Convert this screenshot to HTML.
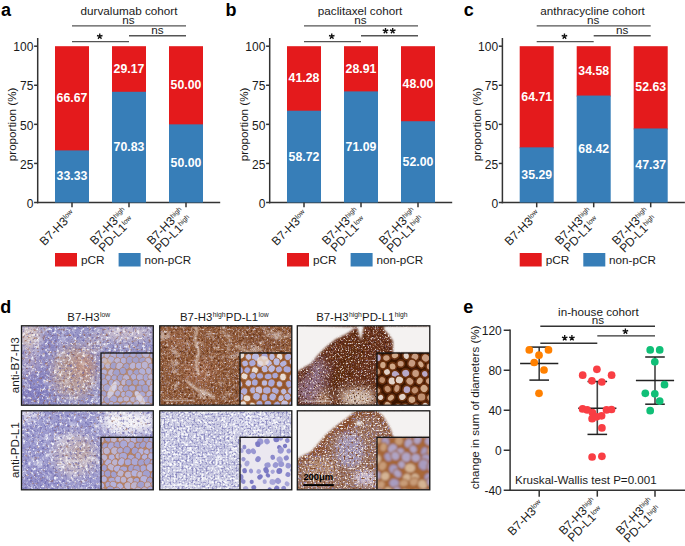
<!DOCTYPE html>
<html><head><meta charset="utf-8"><style>
html,body{margin:0;padding:0;background:#fff;}
body{width:685px;height:546px;overflow:hidden;position:relative;font-family:"Liberation Sans", sans-serif;color:#1a1a1a;}
svg{position:absolute;left:0;top:0;font-family:"Liberation Sans", sans-serif;}
.xl{position:absolute;transform-origin:100% 50%;transform:rotate(-45deg);text-align:center;font-size:12px;line-height:10.5px;white-space:nowrap;}
.xl sup{font-size:6.8px;vertical-align:baseline;position:relative;top:-4px;line-height:0;}
</style></head><body>
<svg width="685" height="546" viewBox="0 0 685 546">
<defs><clipPath id="c1"><rect x="21.5" y="325.8" width="131.8" height="79.4"/></clipPath><filter id="b2" x="-50%" y="-50%" width="200%" height="200%"><feGaussianBlur stdDeviation="5"/></filter><filter id="n3" filterUnits="userSpaceOnUse" x="21.5" y="325.8" width="131.8" height="79.4" color-interpolation-filters="sRGB"><feTurbulence type="fractalNoise" baseFrequency="0.09" numOctaves="3" seed="3"/><feColorMatrix type="matrix" values="0 0 0 0 1.000 0 0 0 0 1.000 0 0 0 0 1.000 5 0 0 0 -2.9"/><feGaussianBlur stdDeviation="0.45"/></filter><filter id="n4" filterUnits="userSpaceOnUse" x="21.5" y="325.8" width="131.8" height="79.4" color-interpolation-filters="sRGB"><feTurbulence type="fractalNoise" baseFrequency="0.35" numOctaves="3" seed="4"/><feColorMatrix type="matrix" values="0 0 0 0 1.000 0 0 0 0 1.000 0 0 0 0 1.000 4 0 0 0 -2.1"/><feGaussianBlur stdDeviation="0.45"/></filter><filter id="n5" filterUnits="userSpaceOnUse" x="21.5" y="325.8" width="131.8" height="79.4" color-interpolation-filters="sRGB"><feTurbulence type="fractalNoise" baseFrequency="0.4" numOctaves="3" seed="7"/><feColorMatrix type="matrix" values="0 0 0 0 0.392 0 0 0 0 0.376 0 0 0 0 0.659 4 0 0 0 -2.2"/><feGaussianBlur stdDeviation="0.45"/></filter><filter id="n6" filterUnits="userSpaceOnUse" x="21.5" y="325.8" width="131.8" height="79.4" color-interpolation-filters="sRGB"><feTurbulence type="fractalNoise" baseFrequency="0.35" numOctaves="3" seed="11"/><feColorMatrix type="matrix" values="0 0 0 0 0.541 0 0 0 0 0.290 0 0 0 0 0.157 4 0 0 0 -2.3"/><feGaussianBlur stdDeviation="0.45"/></filter><clipPath id="c7"><rect x="101.0" y="353.0" width="52.30000000000001" height="52.200000000000045"/></clipPath><filter id="ib8" x="-5%" y="-5%" width="110%" height="110%"><feGaussianBlur stdDeviation="0.55"/></filter><clipPath id="c9"><rect x="159.7" y="325.8" width="132.1" height="79.4"/></clipPath><filter id="b10" x="-50%" y="-50%" width="200%" height="200%"><feGaussianBlur stdDeviation="5"/></filter><filter id="n11" filterUnits="userSpaceOnUse" x="159.7" y="325.8" width="132.1" height="79.4" color-interpolation-filters="sRGB"><feTurbulence type="fractalNoise" baseFrequency="0.1" numOctaves="3" seed="55"/><feColorMatrix type="matrix" values="0 0 0 0 0.957 0 0 0 0 0.933 0 0 0 0 0.941 5 0 0 0 -2.9"/><feGaussianBlur stdDeviation="0.45"/></filter><filter id="n12" filterUnits="userSpaceOnUse" x="159.7" y="325.8" width="132.1" height="79.4" color-interpolation-filters="sRGB"><feTurbulence type="fractalNoise" baseFrequency="0.45" numOctaves="2" seed="5"/><feColorMatrix type="matrix" values="0 0 0 0 0.957 0 0 0 0 0.933 0 0 0 0 0.941 4 0 0 0 -2.3"/><feGaussianBlur stdDeviation="0.45"/></filter><filter id="n13" filterUnits="userSpaceOnUse" x="159.7" y="325.8" width="132.1" height="79.4" color-interpolation-filters="sRGB"><feTurbulence type="fractalNoise" baseFrequency="0.55" numOctaves="2" seed="9"/><feColorMatrix type="matrix" values="0 0 0 0 0.690 0 0 0 0 0.643 0 0 0 0 0.784 4 0 0 0 -2.2"/><feGaussianBlur stdDeviation="0.45"/></filter><filter id="n14" filterUnits="userSpaceOnUse" x="159.7" y="325.8" width="132.1" height="79.4" color-interpolation-filters="sRGB"><feTurbulence type="fractalNoise" baseFrequency="0.45" numOctaves="2" seed="13"/><feColorMatrix type="matrix" values="0 0 0 0 0.353 0 0 0 0 0.165 0 0 0 0 0.063 4 0 0 0 -2.2"/><feGaussianBlur stdDeviation="0.45"/></filter><filter id="n15" filterUnits="userSpaceOnUse" x="159.7" y="325.8" width="132.1" height="79.4" color-interpolation-filters="sRGB"><feTurbulence type="fractalNoise" baseFrequency="0.45" numOctaves="2" seed="14"/><feColorMatrix type="matrix" values="0 0 0 0 0.784 0 0 0 0 0.604 0 0 0 0 0.471 4 0 0 0 -2.2"/><feGaussianBlur stdDeviation="0.45"/></filter><filter id="b16" x="-50%" y="-50%" width="200%" height="200%"><feGaussianBlur stdDeviation="0.8"/></filter><clipPath id="c17"><rect x="240.0" y="353.0" width="51.799999999999955" height="52.200000000000045"/></clipPath><filter id="ib18" x="-5%" y="-5%" width="110%" height="110%"><feGaussianBlur stdDeviation="0.55"/></filter><clipPath id="c19"><rect x="297.3" y="325.8" width="132.5" height="79.4"/></clipPath><filter id="b20" x="-50%" y="-50%" width="200%" height="200%"><feGaussianBlur stdDeviation="4"/></filter><filter id="n21" filterUnits="userSpaceOnUse" x="297.3" y="325.8" width="132.5" height="79.4" color-interpolation-filters="sRGB"><feTurbulence type="fractalNoise" baseFrequency="0.6" numOctaves="2" seed="4"/><feColorMatrix type="matrix" values="0 0 0 0 0.941 0 0 0 0 0.902 0 0 0 0 0.878 5 0 0 0 -2.75"/><feGaussianBlur stdDeviation="0.45"/></filter><filter id="n22" filterUnits="userSpaceOnUse" x="297.3" y="325.8" width="132.5" height="79.4" color-interpolation-filters="sRGB"><feTurbulence type="fractalNoise" baseFrequency="0.6" numOctaves="2" seed="8"/><feColorMatrix type="matrix" values="0 0 0 0 0.612 0 0 0 0 0.565 0 0 0 0 0.769 4 0 0 0 -2.4"/><feGaussianBlur stdDeviation="0.45"/></filter><filter id="n23" filterUnits="userSpaceOnUse" x="297.3" y="325.8" width="132.5" height="79.4" color-interpolation-filters="sRGB"><feTurbulence type="fractalNoise" baseFrequency="0.55" numOctaves="2" seed="12"/><feColorMatrix type="matrix" values="0 0 0 0 0.243 0 0 0 0 0.102 0 0 0 0 0.031 4 0 0 0 -2.3"/><feGaussianBlur stdDeviation="0.45"/></filter><filter id="n24" filterUnits="userSpaceOnUse" x="297.3" y="325.8" width="132.5" height="79.4" color-interpolation-filters="sRGB"><feTurbulence type="fractalNoise" baseFrequency="0.5" numOctaves="2" seed="15"/><feColorMatrix type="matrix" values="0 0 0 0 0.690 0 0 0 0 0.439 0 0 0 0 0.251 4 0 0 0 -2.3"/><feGaussianBlur stdDeviation="0.45"/></filter><filter id="b25" x="-50%" y="-50%" width="200%" height="200%"><feGaussianBlur stdDeviation="0.8"/></filter><clipPath id="c26"><rect x="377.0" y="353.0" width="52.80000000000001" height="52.200000000000045"/></clipPath><filter id="ib27" x="-5%" y="-5%" width="110%" height="110%"><feGaussianBlur stdDeviation="0.55"/></filter><clipPath id="c28"><rect x="21.5" y="410.8" width="131.8" height="79.0"/></clipPath><filter id="b29" x="-50%" y="-50%" width="200%" height="200%"><feGaussianBlur stdDeviation="5"/></filter><filter id="n30" filterUnits="userSpaceOnUse" x="21.5" y="410.8" width="131.8" height="79.0" color-interpolation-filters="sRGB"><feTurbulence type="fractalNoise" baseFrequency="0.09" numOctaves="3" seed="21"/><feColorMatrix type="matrix" values="0 0 0 0 1.000 0 0 0 0 1.000 0 0 0 0 1.000 5 0 0 0 -2.8"/><feGaussianBlur stdDeviation="0.45"/></filter><filter id="n31" filterUnits="userSpaceOnUse" x="21.5" y="410.8" width="131.8" height="79.0" color-interpolation-filters="sRGB"><feTurbulence type="fractalNoise" baseFrequency="0.35" numOctaves="3" seed="22"/><feColorMatrix type="matrix" values="0 0 0 0 1.000 0 0 0 0 1.000 0 0 0 0 1.000 4 0 0 0 -2.1"/><feGaussianBlur stdDeviation="0.45"/></filter><filter id="n32" filterUnits="userSpaceOnUse" x="21.5" y="410.8" width="131.8" height="79.0" color-interpolation-filters="sRGB"><feTurbulence type="fractalNoise" baseFrequency="0.4" numOctaves="3" seed="23"/><feColorMatrix type="matrix" values="0 0 0 0 0.392 0 0 0 0 0.376 0 0 0 0 0.659 4 0 0 0 -2.2"/><feGaussianBlur stdDeviation="0.45"/></filter><filter id="n33" filterUnits="userSpaceOnUse" x="21.5" y="410.8" width="131.8" height="79.0" color-interpolation-filters="sRGB"><feTurbulence type="fractalNoise" baseFrequency="0.35" numOctaves="3" seed="25"/><feColorMatrix type="matrix" values="0 0 0 0 0.541 0 0 0 0 0.290 0 0 0 0 0.157 4 0 0 0 -2.5"/><feGaussianBlur stdDeviation="0.45"/></filter><clipPath id="c34"><rect x="101.0" y="437.3" width="52.30000000000001" height="52.5"/></clipPath><filter id="ib35" x="-5%" y="-5%" width="110%" height="110%"><feGaussianBlur stdDeviation="0.55"/></filter><clipPath id="c36"><rect x="159.7" y="410.8" width="132.1" height="79.0"/></clipPath><filter id="b37" x="-50%" y="-50%" width="200%" height="200%"><feGaussianBlur stdDeviation="5"/></filter><filter id="n38" filterUnits="userSpaceOnUse" x="159.7" y="410.8" width="132.1" height="79.0" color-interpolation-filters="sRGB"><feTurbulence type="fractalNoise" baseFrequency="0.13" numOctaves="3" seed="31"/><feColorMatrix type="matrix" values="0 0 0 0 1.000 0 0 0 0 1.000 0 0 0 0 1.000 5 0 0 0 -2.6"/><feGaussianBlur stdDeviation="0.45"/></filter><filter id="n39" filterUnits="userSpaceOnUse" x="159.7" y="410.8" width="132.1" height="79.0" color-interpolation-filters="sRGB"><feTurbulence type="fractalNoise" baseFrequency="0.5" numOctaves="2" seed="32"/><feColorMatrix type="matrix" values="0 0 0 0 1.000 0 0 0 0 1.000 0 0 0 0 1.000 5 0 0 0 -2.3"/><feGaussianBlur stdDeviation="0.45"/></filter><filter id="n40" filterUnits="userSpaceOnUse" x="159.7" y="410.8" width="132.1" height="79.0" color-interpolation-filters="sRGB"><feTurbulence type="fractalNoise" baseFrequency="0.5" numOctaves="2" seed="33"/><feColorMatrix type="matrix" values="0 0 0 0 0.533 0 0 0 0 0.525 0 0 0 0 0.745 5 0 0 0 -2.5"/><feGaussianBlur stdDeviation="0.45"/></filter><clipPath id="c41"><rect x="240.0" y="437.3" width="51.799999999999955" height="52.5"/></clipPath><filter id="ib42" x="-5%" y="-5%" width="110%" height="110%"><feGaussianBlur stdDeviation="0.55"/></filter><clipPath id="c43"><rect x="297.3" y="410.8" width="132.5" height="79.0"/></clipPath><filter id="b44" x="-50%" y="-50%" width="200%" height="200%"><feGaussianBlur stdDeviation="2.5"/></filter><filter id="n45" filterUnits="userSpaceOnUse" x="297.3" y="410.8" width="132.5" height="79.0" color-interpolation-filters="sRGB"><feTurbulence type="fractalNoise" baseFrequency="0.6" numOctaves="2" seed="41"/><feColorMatrix type="matrix" values="0 0 0 0 0.941 0 0 0 0 0.902 0 0 0 0 0.878 5 0 0 0 -2.6"/><feGaussianBlur stdDeviation="0.45"/></filter><filter id="n46" filterUnits="userSpaceOnUse" x="297.3" y="410.8" width="132.5" height="79.0" color-interpolation-filters="sRGB"><feTurbulence type="fractalNoise" baseFrequency="0.5" numOctaves="2" seed="43"/><feColorMatrix type="matrix" values="0 0 0 0 0.549 0 0 0 0 0.518 0 0 0 0 0.753 4 0 0 0 -2.2"/><feGaussianBlur stdDeviation="0.45"/></filter><filter id="n47" filterUnits="userSpaceOnUse" x="297.3" y="410.8" width="132.5" height="79.0" color-interpolation-filters="sRGB"><feTurbulence type="fractalNoise" baseFrequency="0.5" numOctaves="2" seed="45"/><feColorMatrix type="matrix" values="0 0 0 0 0.478 0 0 0 0 0.235 0 0 0 0 0.078 4 0 0 0 -2.2"/><feGaussianBlur stdDeviation="0.45"/></filter><filter id="b48" x="-50%" y="-50%" width="200%" height="200%"><feGaussianBlur stdDeviation="0.8"/></filter><clipPath id="c49"><rect x="377.0" y="437.3" width="52.80000000000001" height="52.5"/></clipPath><filter id="ib50" x="-5%" y="-5%" width="110%" height="110%"><feGaussianBlur stdDeviation="0.9"/></filter></defs>
<g clip-path="url(#c1)"><rect x="21.5" y="325.8" width="131.8" height="79.4" fill="#9896c8"/><g filter="url(#b2)"><ellipse cx="74" cy="372" rx="22" ry="26" fill="#b8a0a0" opacity="1"/><ellipse cx="84" cy="366" rx="10" ry="14" fill="#b88c80" opacity="1"/><ellipse cx="30" cy="336" rx="12" ry="12" fill="#d8c8c4" opacity="1"/><ellipse cx="126" cy="333" rx="28" ry="8" fill="#c8bccc" opacity="1"/><ellipse cx="35" cy="398" rx="22" ry="10" fill="#8480bc" opacity="1"/><ellipse cx="36" cy="378" rx="14" ry="26" fill="#8884c2" opacity="1"/><ellipse cx="30" cy="362" rx="9" ry="14" fill="#aca0c4" opacity="1"/><ellipse cx="50" cy="342" rx="14" ry="8" fill="#8e8ac4" opacity="1"/><ellipse cx="94" cy="345" rx="8" ry="10" fill="#b4a8c0" opacity="1"/></g><rect x="21.5" y="325.8" width="131.8" height="79.4" filter="url(#n3)" opacity="0.35"/><rect x="21.5" y="325.8" width="131.8" height="79.4" filter="url(#n4)" opacity="0.85"/><rect x="21.5" y="325.8" width="131.8" height="79.4" filter="url(#n5)" opacity="0.7"/><rect x="21.5" y="325.8" width="131.8" height="79.4" filter="url(#n6)" opacity="0.55"/><g clip-path="url(#c7)"><g filter="url(#ib8)"><rect x="101.0" y="353.0" width="52.30000000000001" height="52.200000000000045" fill="#b89078"/><ellipse cx="98.3" cy="349.3" rx="3.8" ry="3.7" transform="rotate(154 98.3 349.3)" fill="#b2b0d8" stroke="#ae7a58" stroke-width="0.6"/><ellipse cx="104.5" cy="350.4" rx="3.6" ry="3.4" transform="rotate(51 104.5 350.4)" fill="#b2b0d8" stroke="#ae7a58" stroke-width="0.6"/><ellipse cx="111.2" cy="349.7" rx="3.7" ry="2.8" transform="rotate(102 111.2 349.7)" fill="#aaa8d4" stroke="#ae7a58" stroke-width="0.6"/><ellipse cx="116.9" cy="350.2" rx="3.3" ry="3.8" transform="rotate(137 116.9 350.2)" fill="#aaa8d4" stroke="#ae7a58" stroke-width="0.6"/><ellipse cx="124.2" cy="348.9" rx="3.3" ry="3.6" transform="rotate(145 124.2 348.9)" fill="#b2b0d8" stroke="#ae7a58" stroke-width="0.6"/><ellipse cx="130.6" cy="349.6" rx="3.6" ry="3.4" transform="rotate(95 130.6 349.6)" fill="#bab4d4" stroke="#ae7a58" stroke-width="0.6"/><ellipse cx="135.3" cy="349.3" rx="3.1" ry="3.7" transform="rotate(63 135.3 349.3)" fill="#aaa8d4" stroke="#ae7a58" stroke-width="0.6"/><ellipse cx="142.1" cy="349.3" rx="3.4" ry="3.8" transform="rotate(103 142.1 349.3)" fill="#bab4d4" stroke="#ae7a58" stroke-width="0.6"/><ellipse cx="148.6" cy="348.9" rx="3.7" ry="3.4" transform="rotate(37 148.6 348.9)" fill="#aaa8d4" stroke="#ae7a58" stroke-width="0.6"/><ellipse cx="155.7" cy="349.2" rx="4.1" ry="3.7" transform="rotate(130 155.7 349.2)" fill="#aaa8d4" stroke="#ae7a58" stroke-width="0.6"/><ellipse cx="100.3" cy="355.0" rx="4.3" ry="3.7" transform="rotate(150 100.3 355.0)" fill="#b2b0d8" stroke="#ae7a58" stroke-width="0.6"/><ellipse cx="108.2" cy="355.2" rx="4.1" ry="3.9" transform="rotate(178 108.2 355.2)" fill="#bab4d4" stroke="#ae7a58" stroke-width="0.6"/><ellipse cx="113.4" cy="355.5" rx="3.6" ry="3.8" transform="rotate(36 113.4 355.5)" fill="#b2b0d8" stroke="#ae7a58" stroke-width="0.6"/><ellipse cx="120.2" cy="355.5" rx="3.9" ry="3.8" transform="rotate(175 120.2 355.5)" fill="#aaa8d4" stroke="#ae7a58" stroke-width="0.6"/><ellipse cx="127.2" cy="355.2" rx="3.8" ry="3.5" transform="rotate(132 127.2 355.2)" fill="#a2a0cc" stroke="#ae7a58" stroke-width="0.6"/><ellipse cx="133.4" cy="355.7" rx="3.6" ry="3.8" transform="rotate(115 133.4 355.7)" fill="#aaa8d4" stroke="#ae7a58" stroke-width="0.6"/><ellipse cx="139.4" cy="355.9" rx="3.7" ry="3.4" transform="rotate(113 139.4 355.9)" fill="#a2a0cc" stroke="#ae7a58" stroke-width="0.6"/><ellipse cx="145.8" cy="354.4" rx="3.8" ry="3.9" transform="rotate(138 145.8 354.4)" fill="#bab4d4" stroke="#ae7a58" stroke-width="0.6"/><ellipse cx="153.1" cy="355.5" rx="3.5" ry="3.4" transform="rotate(127 153.1 355.5)" fill="#aaa8d4" stroke="#ae7a58" stroke-width="0.6"/><ellipse cx="158.6" cy="356.3" rx="3.0" ry="3.7" transform="rotate(87 158.6 356.3)" fill="#a2a0cc" stroke="#ae7a58" stroke-width="0.6"/><ellipse cx="98.5" cy="360.4" rx="3.6" ry="3.3" transform="rotate(18 98.5 360.4)" fill="#bab4d4" stroke="#ae7a58" stroke-width="0.6"/><ellipse cx="104.3" cy="360.8" rx="3.3" ry="3.3" transform="rotate(80 104.3 360.8)" fill="#bab4d4" stroke="#ae7a58" stroke-width="0.6"/><ellipse cx="111.5" cy="359.9" rx="3.6" ry="4.1" transform="rotate(124 111.5 359.9)" fill="#b2b0d8" stroke="#ae7a58" stroke-width="0.6"/><ellipse cx="117.7" cy="361.3" rx="3.9" ry="3.5" transform="rotate(55 117.7 361.3)" fill="#bab4d4" stroke="#ae7a58" stroke-width="0.6"/><ellipse cx="123.5" cy="360.7" rx="3.3" ry="3.4" transform="rotate(12 123.5 360.7)" fill="#b2b0d8" stroke="#ae7a58" stroke-width="0.6"/><ellipse cx="129.9" cy="360.3" rx="3.7" ry="3.8" transform="rotate(9 129.9 360.3)" fill="#a2a0cc" stroke="#ae7a58" stroke-width="0.6"/><ellipse cx="135.9" cy="360.6" rx="3.7" ry="3.8" transform="rotate(147 135.9 360.6)" fill="#a2a0cc" stroke="#ae7a58" stroke-width="0.6"/><ellipse cx="142.8" cy="360.8" rx="3.5" ry="3.9" transform="rotate(71 142.8 360.8)" fill="#a2a0cc" stroke="#ae7a58" stroke-width="0.6"/><ellipse cx="148.4" cy="361.0" rx="3.1" ry="3.7" transform="rotate(156 148.4 361.0)" fill="#bab4d4" stroke="#ae7a58" stroke-width="0.6"/><ellipse cx="156.0" cy="361.5" rx="3.9" ry="3.4" transform="rotate(110 156.0 361.5)" fill="#a2a0cc" stroke="#ae7a58" stroke-width="0.6"/><ellipse cx="101.3" cy="365.6" rx="4.1" ry="3.2" transform="rotate(162 101.3 365.6)" fill="#b2b0d8" stroke="#ae7a58" stroke-width="0.6"/><ellipse cx="107.9" cy="365.9" rx="3.1" ry="3.2" transform="rotate(137 107.9 365.9)" fill="#bab4d4" stroke="#ae7a58" stroke-width="0.6"/><ellipse cx="113.5" cy="365.6" rx="3.3" ry="3.7" transform="rotate(30 113.5 365.6)" fill="#a2a0cc" stroke="#ae7a58" stroke-width="0.6"/><ellipse cx="119.6" cy="366.0" rx="3.7" ry="4.0" transform="rotate(27 119.6 366.0)" fill="#bab4d4" stroke="#ae7a58" stroke-width="0.6"/><ellipse cx="126.3" cy="366.4" rx="3.5" ry="3.2" transform="rotate(140 126.3 366.4)" fill="#a2a0cc" stroke="#ae7a58" stroke-width="0.6"/><ellipse cx="132.8" cy="365.8" rx="3.3" ry="3.8" transform="rotate(43 132.8 365.8)" fill="#bab4d4" stroke="#ae7a58" stroke-width="0.6"/><ellipse cx="139.4" cy="365.9" rx="4.0" ry="3.5" transform="rotate(19 139.4 365.9)" fill="#b2b0d8" stroke="#ae7a58" stroke-width="0.6"/><ellipse cx="144.9" cy="365.5" rx="3.5" ry="4.2" transform="rotate(172 144.9 365.5)" fill="#bab4d4" stroke="#ae7a58" stroke-width="0.6"/><ellipse cx="151.5" cy="366.8" rx="3.2" ry="3.8" transform="rotate(160 151.5 366.8)" fill="#aaa8d4" stroke="#ae7a58" stroke-width="0.6"/><ellipse cx="158.1" cy="367.3" rx="3.8" ry="3.6" transform="rotate(95 158.1 367.3)" fill="#b2b0d8" stroke="#ae7a58" stroke-width="0.6"/><ellipse cx="97.3" cy="372.3" rx="3.4" ry="3.9" transform="rotate(21 97.3 372.3)" fill="#bab4d4" stroke="#ae7a58" stroke-width="0.6"/><ellipse cx="103.9" cy="372.2" rx="3.2" ry="3.5" transform="rotate(89 103.9 372.2)" fill="#b2b0d8" stroke="#ae7a58" stroke-width="0.6"/><ellipse cx="111.5" cy="372.7" rx="3.7" ry="3.9" transform="rotate(42 111.5 372.7)" fill="#bab4d4" stroke="#ae7a58" stroke-width="0.6"/><ellipse cx="116.6" cy="372.8" rx="3.7" ry="3.8" transform="rotate(38 116.6 372.8)" fill="#a2a0cc" stroke="#ae7a58" stroke-width="0.6"/><ellipse cx="122.9" cy="371.0" rx="3.3" ry="3.6" transform="rotate(164 122.9 371.0)" fill="#a2a0cc" stroke="#ae7a58" stroke-width="0.6"/><ellipse cx="130.4" cy="372.9" rx="2.9" ry="3.6" transform="rotate(154 130.4 372.9)" fill="#aaa8d4" stroke="#ae7a58" stroke-width="0.6"/><ellipse cx="136.9" cy="372.9" rx="3.8" ry="3.7" transform="rotate(52 136.9 372.9)" fill="#a2a0cc" stroke="#ae7a58" stroke-width="0.6"/><ellipse cx="142.4" cy="371.7" rx="3.4" ry="4.0" transform="rotate(137 142.4 371.7)" fill="#b2b0d8" stroke="#ae7a58" stroke-width="0.6"/><ellipse cx="148.9" cy="371.4" rx="4.0" ry="3.1" transform="rotate(70 148.9 371.4)" fill="#b2b0d8" stroke="#ae7a58" stroke-width="0.6"/><ellipse cx="155.0" cy="372.0" rx="3.7" ry="3.4" transform="rotate(14 155.0 372.0)" fill="#aaa8d4" stroke="#ae7a58" stroke-width="0.6"/><ellipse cx="101.8" cy="376.6" rx="4.2" ry="3.2" transform="rotate(11 101.8 376.6)" fill="#a2a0cc" stroke="#ae7a58" stroke-width="0.6"/><ellipse cx="108.3" cy="378.1" rx="3.0" ry="3.2" transform="rotate(21 108.3 378.1)" fill="#b2b0d8" stroke="#ae7a58" stroke-width="0.6"/><ellipse cx="114.1" cy="378.2" rx="3.1" ry="3.4" transform="rotate(23 114.1 378.2)" fill="#aaa8d4" stroke="#ae7a58" stroke-width="0.6"/><ellipse cx="120.9" cy="377.9" rx="3.7" ry="3.8" transform="rotate(119 120.9 377.9)" fill="#a2a0cc" stroke="#ae7a58" stroke-width="0.6"/><ellipse cx="126.1" cy="377.9" rx="3.6" ry="3.5" transform="rotate(47 126.1 377.9)" fill="#bab4d4" stroke="#ae7a58" stroke-width="0.6"/><ellipse cx="133.8" cy="377.0" rx="3.1" ry="3.5" transform="rotate(142 133.8 377.0)" fill="#b2b0d8" stroke="#ae7a58" stroke-width="0.6"/><ellipse cx="140.1" cy="377.3" rx="3.4" ry="3.7" transform="rotate(101 140.1 377.3)" fill="#b2b0d8" stroke="#ae7a58" stroke-width="0.6"/><ellipse cx="146.5" cy="377.7" rx="3.9" ry="3.5" transform="rotate(97 146.5 377.7)" fill="#aaa8d4" stroke="#ae7a58" stroke-width="0.6"/><ellipse cx="151.5" cy="377.6" rx="4.2" ry="3.3" transform="rotate(48 151.5 377.6)" fill="#bab4d4" stroke="#ae7a58" stroke-width="0.6"/><ellipse cx="157.8" cy="378.2" rx="3.1" ry="3.8" transform="rotate(27 157.8 378.2)" fill="#aaa8d4" stroke="#ae7a58" stroke-width="0.6"/><ellipse cx="97.5" cy="383.3" rx="4.1" ry="4.1" transform="rotate(10 97.5 383.3)" fill="#b2b0d8" stroke="#ae7a58" stroke-width="0.6"/><ellipse cx="104.3" cy="382.5" rx="3.9" ry="3.5" transform="rotate(90 104.3 382.5)" fill="#aaa8d4" stroke="#ae7a58" stroke-width="0.6"/><ellipse cx="111.4" cy="383.2" rx="3.9" ry="3.0" transform="rotate(96 111.4 383.2)" fill="#aaa8d4" stroke="#ae7a58" stroke-width="0.6"/><ellipse cx="116.6" cy="383.6" rx="3.7" ry="3.9" transform="rotate(137 116.6 383.6)" fill="#bab4d4" stroke="#ae7a58" stroke-width="0.6"/><ellipse cx="123.7" cy="382.3" rx="2.8" ry="3.3" transform="rotate(16 123.7 382.3)" fill="#bab4d4" stroke="#ae7a58" stroke-width="0.6"/><ellipse cx="128.9" cy="382.6" rx="3.3" ry="3.2" transform="rotate(69 128.9 382.6)" fill="#a2a0cc" stroke="#ae7a58" stroke-width="0.6"/><ellipse cx="135.5" cy="382.4" rx="3.3" ry="3.1" transform="rotate(143 135.5 382.4)" fill="#a2a0cc" stroke="#ae7a58" stroke-width="0.6"/><ellipse cx="141.8" cy="383.8" rx="4.1" ry="3.5" transform="rotate(76 141.8 383.8)" fill="#aaa8d4" stroke="#ae7a58" stroke-width="0.6"/><ellipse cx="149.8" cy="382.7" rx="3.8" ry="3.5" transform="rotate(166 149.8 382.7)" fill="#b2b0d8" stroke="#ae7a58" stroke-width="0.6"/><ellipse cx="154.6" cy="383.3" rx="4.0" ry="3.6" transform="rotate(19 154.6 383.3)" fill="#bab4d4" stroke="#ae7a58" stroke-width="0.6"/><ellipse cx="101.9" cy="388.2" rx="3.3" ry="3.4" transform="rotate(152 101.9 388.2)" fill="#bab4d4" stroke="#ae7a58" stroke-width="0.6"/><ellipse cx="107.0" cy="387.8" rx="3.9" ry="3.9" transform="rotate(52 107.0 387.8)" fill="#aaa8d4" stroke="#ae7a58" stroke-width="0.6"/><ellipse cx="114.7" cy="387.9" rx="3.4" ry="3.7" transform="rotate(58 114.7 387.9)" fill="#b2b0d8" stroke="#ae7a58" stroke-width="0.6"/><ellipse cx="121.1" cy="388.7" rx="3.4" ry="3.7" transform="rotate(8 121.1 388.7)" fill="#bab4d4" stroke="#ae7a58" stroke-width="0.6"/><ellipse cx="126.1" cy="388.7" rx="3.5" ry="3.4" transform="rotate(49 126.1 388.7)" fill="#a2a0cc" stroke="#ae7a58" stroke-width="0.6"/><ellipse cx="132.2" cy="388.2" rx="3.5" ry="3.1" transform="rotate(165 132.2 388.2)" fill="#aaa8d4" stroke="#ae7a58" stroke-width="0.6"/><ellipse cx="139.7" cy="388.9" rx="3.8" ry="3.6" transform="rotate(81 139.7 388.9)" fill="#a2a0cc" stroke="#ae7a58" stroke-width="0.6"/><ellipse cx="145.4" cy="388.3" rx="3.5" ry="3.9" transform="rotate(167 145.4 388.3)" fill="#a2a0cc" stroke="#ae7a58" stroke-width="0.6"/><ellipse cx="153.0" cy="388.2" rx="4.1" ry="4.2" transform="rotate(166 153.0 388.2)" fill="#bab4d4" stroke="#ae7a58" stroke-width="0.6"/><ellipse cx="158.8" cy="388.8" rx="3.2" ry="3.6" transform="rotate(104 158.8 388.8)" fill="#aaa8d4" stroke="#ae7a58" stroke-width="0.6"/><ellipse cx="97.3" cy="393.3" rx="3.6" ry="3.5" transform="rotate(134 97.3 393.3)" fill="#a2a0cc" stroke="#ae7a58" stroke-width="0.6"/><ellipse cx="103.4" cy="394.4" rx="3.8" ry="3.6" transform="rotate(67 103.4 394.4)" fill="#a2a0cc" stroke="#ae7a58" stroke-width="0.6"/><ellipse cx="110.6" cy="394.8" rx="3.7" ry="4.2" transform="rotate(96 110.6 394.8)" fill="#a2a0cc" stroke="#ae7a58" stroke-width="0.6"/><ellipse cx="117.6" cy="393.3" rx="3.0" ry="3.3" transform="rotate(40 117.6 393.3)" fill="#b2b0d8" stroke="#ae7a58" stroke-width="0.6"/><ellipse cx="123.9" cy="395.1" rx="3.8" ry="3.1" transform="rotate(74 123.9 395.1)" fill="#b2b0d8" stroke="#ae7a58" stroke-width="0.6"/><ellipse cx="129.0" cy="394.2" rx="3.8" ry="4.0" transform="rotate(123 129.0 394.2)" fill="#aaa8d4" stroke="#ae7a58" stroke-width="0.6"/><ellipse cx="137.0" cy="393.5" rx="3.1" ry="3.0" transform="rotate(103 137.0 393.5)" fill="#aaa8d4" stroke="#ae7a58" stroke-width="0.6"/><ellipse cx="142.2" cy="394.9" rx="3.7" ry="3.6" transform="rotate(39 142.2 394.9)" fill="#aaa8d4" stroke="#ae7a58" stroke-width="0.6"/><ellipse cx="149.7" cy="394.6" rx="3.8" ry="3.7" transform="rotate(106 149.7 394.6)" fill="#b2b0d8" stroke="#ae7a58" stroke-width="0.6"/><ellipse cx="155.3" cy="393.5" rx="3.6" ry="3.2" transform="rotate(160 155.3 393.5)" fill="#bab4d4" stroke="#ae7a58" stroke-width="0.6"/><ellipse cx="100.5" cy="398.8" rx="4.0" ry="4.1" transform="rotate(77 100.5 398.8)" fill="#bab4d4" stroke="#ae7a58" stroke-width="0.6"/><ellipse cx="107.5" cy="399.8" rx="3.8" ry="4.2" transform="rotate(144 107.5 399.8)" fill="#a2a0cc" stroke="#ae7a58" stroke-width="0.6"/><ellipse cx="113.6" cy="399.4" rx="3.9" ry="4.1" transform="rotate(46 113.6 399.4)" fill="#aaa8d4" stroke="#ae7a58" stroke-width="0.6"/><ellipse cx="120.5" cy="399.5" rx="2.8" ry="3.3" transform="rotate(69 120.5 399.5)" fill="#b2b0d8" stroke="#ae7a58" stroke-width="0.6"/><ellipse cx="126.3" cy="399.0" rx="2.9" ry="3.4" transform="rotate(92 126.3 399.0)" fill="#bab4d4" stroke="#ae7a58" stroke-width="0.6"/><ellipse cx="133.6" cy="399.5" rx="3.0" ry="3.8" transform="rotate(83 133.6 399.5)" fill="#bab4d4" stroke="#ae7a58" stroke-width="0.6"/><ellipse cx="138.9" cy="398.7" rx="4.1" ry="3.8" transform="rotate(116 138.9 398.7)" fill="#b2b0d8" stroke="#ae7a58" stroke-width="0.6"/><ellipse cx="146.1" cy="399.6" rx="3.9" ry="3.6" transform="rotate(179 146.1 399.6)" fill="#aaa8d4" stroke="#ae7a58" stroke-width="0.6"/><ellipse cx="151.7" cy="399.7" rx="4.2" ry="3.7" transform="rotate(103 151.7 399.7)" fill="#a2a0cc" stroke="#ae7a58" stroke-width="0.6"/><ellipse cx="158.4" cy="399.8" rx="3.4" ry="3.5" transform="rotate(147 158.4 399.8)" fill="#a2a0cc" stroke="#ae7a58" stroke-width="0.6"/><ellipse cx="97.4" cy="405.5" rx="3.9" ry="3.9" transform="rotate(81 97.4 405.5)" fill="#bab4d4" stroke="#ae7a58" stroke-width="0.6"/><ellipse cx="104.2" cy="405.9" rx="3.3" ry="3.4" transform="rotate(99 104.2 405.9)" fill="#b2b0d8" stroke="#ae7a58" stroke-width="0.6"/><ellipse cx="111.3" cy="404.9" rx="3.4" ry="3.1" transform="rotate(76 111.3 404.9)" fill="#b2b0d8" stroke="#ae7a58" stroke-width="0.6"/><ellipse cx="116.8" cy="405.6" rx="3.6" ry="3.6" transform="rotate(169 116.8 405.6)" fill="#aaa8d4" stroke="#ae7a58" stroke-width="0.6"/><ellipse cx="124.1" cy="406.0" rx="4.0" ry="4.1" transform="rotate(152 124.1 406.0)" fill="#aaa8d4" stroke="#ae7a58" stroke-width="0.6"/><ellipse cx="129.2" cy="404.7" rx="3.3" ry="3.3" transform="rotate(141 129.2 404.7)" fill="#bab4d4" stroke="#ae7a58" stroke-width="0.6"/><ellipse cx="136.7" cy="404.4" rx="3.9" ry="3.5" transform="rotate(145 136.7 404.4)" fill="#bab4d4" stroke="#ae7a58" stroke-width="0.6"/><ellipse cx="142.3" cy="405.3" rx="3.5" ry="3.6" transform="rotate(3 142.3 405.3)" fill="#bab4d4" stroke="#ae7a58" stroke-width="0.6"/><ellipse cx="148.1" cy="406.1" rx="4.0" ry="3.5" transform="rotate(23 148.1 406.1)" fill="#b2b0d8" stroke="#ae7a58" stroke-width="0.6"/><ellipse cx="155.0" cy="406.0" rx="4.1" ry="3.5" transform="rotate(169 155.0 406.0)" fill="#a2a0cc" stroke="#ae7a58" stroke-width="0.6"/><ellipse cx="101.5" cy="411.4" rx="3.6" ry="3.6" transform="rotate(78 101.5 411.4)" fill="#a2a0cc" stroke="#ae7a58" stroke-width="0.6"/><ellipse cx="107.3" cy="411.6" rx="3.3" ry="4.0" transform="rotate(171 107.3 411.6)" fill="#bab4d4" stroke="#ae7a58" stroke-width="0.6"/><ellipse cx="114.4" cy="410.6" rx="3.7" ry="3.1" transform="rotate(23 114.4 410.6)" fill="#bab4d4" stroke="#ae7a58" stroke-width="0.6"/><ellipse cx="119.5" cy="411.6" rx="3.2" ry="3.0" transform="rotate(46 119.5 411.6)" fill="#b2b0d8" stroke="#ae7a58" stroke-width="0.6"/><ellipse cx="126.8" cy="410.6" rx="3.6" ry="3.0" transform="rotate(117 126.8 410.6)" fill="#bab4d4" stroke="#ae7a58" stroke-width="0.6"/><ellipse cx="132.5" cy="411.2" rx="3.8" ry="3.0" transform="rotate(110 132.5 411.2)" fill="#b2b0d8" stroke="#ae7a58" stroke-width="0.6"/><ellipse cx="139.3" cy="409.8" rx="3.4" ry="3.4" transform="rotate(62 139.3 409.8)" fill="#aaa8d4" stroke="#ae7a58" stroke-width="0.6"/><ellipse cx="146.4" cy="410.2" rx="3.9" ry="3.8" transform="rotate(150 146.4 410.2)" fill="#aaa8d4" stroke="#ae7a58" stroke-width="0.6"/><ellipse cx="151.8" cy="410.9" rx="4.1" ry="3.8" transform="rotate(32 151.8 410.9)" fill="#aaa8d4" stroke="#ae7a58" stroke-width="0.6"/><ellipse cx="159.2" cy="411.4" rx="4.0" ry="3.8" transform="rotate(16 159.2 411.4)" fill="#aaa8d4" stroke="#ae7a58" stroke-width="0.6"/></g><g opacity="0.55"><ellipse cx="112" cy="390" rx="3" ry="9" transform="rotate(25 112 390)" fill="#f4eeee"/><ellipse cx="140" cy="398" rx="3" ry="8" transform="rotate(-35 140 398)" fill="#f0eaea"/><ellipse cx="107" cy="362" rx="4" ry="3" fill="#d8b8a0"/></g></g><rect x="101.0" y="353.0" width="52.30000000000001" height="54.200000000000045" fill="none" stroke="#111" stroke-width="1.3"/></g><rect x="21.5" y="325.8" width="131.8" height="79.4" fill="none" stroke="#1a1a1a" stroke-width="1.3"/><g clip-path="url(#c9)"><rect x="159.7" y="325.8" width="132.1" height="79.4" fill="#8c5634"/><g filter="url(#b10)"><ellipse cx="200" cy="372" rx="16" ry="12" fill="#a0684a" opacity="1"/><ellipse cx="262" cy="338" rx="20" ry="9" fill="#845030" opacity="1"/><ellipse cx="175" cy="340" rx="12" ry="10" fill="#9a6444" opacity="1"/></g><rect x="159.7" y="325.8" width="132.1" height="79.4" filter="url(#n11)" opacity="0.5"/><rect x="159.7" y="325.8" width="132.1" height="79.4" filter="url(#n12)" opacity="0.85"/><rect x="159.7" y="325.8" width="132.1" height="79.4" filter="url(#n13)" opacity="0.7"/><rect x="159.7" y="325.8" width="132.1" height="79.4" filter="url(#n14)" opacity="0.9"/><rect x="159.7" y="325.8" width="132.1" height="79.4" filter="url(#n15)" opacity="0.7"/><g filter="url(#b16)"><g fill="none" stroke="#f6eeea" stroke-linecap="round" opacity="0.8"><polyline points="197,328 195,340 199,352 196,364 198,374" stroke-width="1.8"/><polyline points="188,382 196,389 206,392 214,398" stroke-width="2"/><polyline points="236,346 248,352 262,349" stroke-width="1.4"/><polyline points="222,330 230,340 228,352" stroke-width="1.2"/><polyline points="172,350 180,356" stroke-width="1.4"/><polyline points="270,330 278,338 288,336" stroke-width="1.2"/></g></g><g clip-path="url(#c17)"><g filter="url(#ib18)"><rect x="240.0" y="353.0" width="51.799999999999955" height="52.200000000000045" fill="#94542a"/><ellipse cx="234.9" cy="348.0" rx="3.5" ry="3.4" transform="rotate(73 234.9 348.0)" fill="#e8dcd6" stroke="#a05e2c" stroke-width="0.8"/><ellipse cx="244.4" cy="348.5" rx="4.0" ry="3.9" transform="rotate(163 244.4 348.5)" fill="#bcbade" stroke="#a05e2c" stroke-width="0.8"/><ellipse cx="252.2" cy="348.2" rx="3.6" ry="3.8" transform="rotate(144 252.2 348.2)" fill="#b4b2dc" stroke="#a05e2c" stroke-width="0.8"/><ellipse cx="260.5" cy="350.2" rx="3.9" ry="3.7" transform="rotate(34 260.5 350.2)" fill="#aaa8d8" stroke="#a05e2c" stroke-width="0.8"/><ellipse cx="267.9" cy="348.4" rx="3.3" ry="3.8" transform="rotate(78 267.9 348.4)" fill="#b0acd8" stroke="#a05e2c" stroke-width="0.8"/><ellipse cx="275.9" cy="348.6" rx="3.4" ry="3.1" transform="rotate(128 275.9 348.6)" fill="#aaa8d8" stroke="#a05e2c" stroke-width="0.8"/><ellipse cx="284.1" cy="349.1" rx="3.7" ry="4.3" transform="rotate(96 284.1 349.1)" fill="#b4b2dc" stroke="#a05e2c" stroke-width="0.8"/><ellipse cx="291.6" cy="348.1" rx="3.6" ry="3.7" transform="rotate(87 291.6 348.1)" fill="#e8dcd6" stroke="#a05e2c" stroke-width="0.8"/><ellipse cx="240.4" cy="355.2" rx="4.4" ry="3.9" transform="rotate(158 240.4 355.2)" fill="#e8dcd6" stroke="#a05e2c" stroke-width="0.8"/><ellipse cx="248.6" cy="356.9" rx="3.3" ry="3.3" transform="rotate(136 248.6 356.9)" fill="#c8c0dc" stroke="#a05e2c" stroke-width="0.8"/><ellipse cx="255.6" cy="357.1" rx="4.1" ry="4.3" transform="rotate(180 255.6 357.1)" fill="#bcbade" stroke="#a05e2c" stroke-width="0.8"/><ellipse cx="264.6" cy="356.4" rx="3.7" ry="3.8" transform="rotate(156 264.6 356.4)" fill="#aaa8d8" stroke="#a05e2c" stroke-width="0.8"/><ellipse cx="272.0" cy="356.9" rx="3.2" ry="3.7" transform="rotate(179 272.0 356.9)" fill="#bcbade" stroke="#a05e2c" stroke-width="0.8"/><ellipse cx="279.6" cy="356.8" rx="3.6" ry="3.3" transform="rotate(100 279.6 356.8)" fill="#e8dcd6" stroke="#a05e2c" stroke-width="0.8"/><ellipse cx="288.2" cy="356.9" rx="3.5" ry="3.7" transform="rotate(69 288.2 356.9)" fill="#b4b2dc" stroke="#a05e2c" stroke-width="0.8"/><ellipse cx="295.3" cy="355.5" rx="3.3" ry="3.8" transform="rotate(90 295.3 355.5)" fill="#c8c0dc" stroke="#a05e2c" stroke-width="0.8"/><ellipse cx="237.0" cy="362.3" rx="3.5" ry="3.5" transform="rotate(165 237.0 362.3)" fill="#bcbade" stroke="#a05e2c" stroke-width="0.8"/><ellipse cx="245.1" cy="363.4" rx="3.3" ry="3.4" transform="rotate(60 245.1 363.4)" fill="#b4b2dc" stroke="#a05e2c" stroke-width="0.8"/><ellipse cx="252.4" cy="363.1" rx="3.8" ry="3.5" transform="rotate(151 252.4 363.1)" fill="#aaa8d8" stroke="#a05e2c" stroke-width="0.8"/><ellipse cx="260.0" cy="363.9" rx="3.5" ry="3.2" transform="rotate(107 260.0 363.9)" fill="#b4b2dc" stroke="#a05e2c" stroke-width="0.8"/><ellipse cx="268.8" cy="363.4" rx="3.7" ry="3.6" transform="rotate(55 268.8 363.4)" fill="#bcbade" stroke="#a05e2c" stroke-width="0.8"/><ellipse cx="276.6" cy="361.8" rx="4.0" ry="3.6" transform="rotate(94 276.6 361.8)" fill="#bcbade" stroke="#a05e2c" stroke-width="0.8"/><ellipse cx="283.3" cy="363.8" rx="4.0" ry="3.1" transform="rotate(147 283.3 363.8)" fill="#b4b2dc" stroke="#a05e2c" stroke-width="0.8"/><ellipse cx="292.8" cy="362.2" rx="4.1" ry="3.3" transform="rotate(64 292.8 362.2)" fill="#c8c0dc" stroke="#a05e2c" stroke-width="0.8"/><ellipse cx="239.8" cy="370.3" rx="3.8" ry="3.5" transform="rotate(80 239.8 370.3)" fill="#aaa8d8" stroke="#a05e2c" stroke-width="0.8"/><ellipse cx="247.2" cy="370.2" rx="3.5" ry="3.2" transform="rotate(129 247.2 370.2)" fill="#aaa8d8" stroke="#a05e2c" stroke-width="0.8"/><ellipse cx="254.9" cy="370.3" rx="3.5" ry="3.6" transform="rotate(29 254.9 370.3)" fill="#e8dcd6" stroke="#a05e2c" stroke-width="0.8"/><ellipse cx="264.8" cy="369.0" rx="3.5" ry="3.8" transform="rotate(152 264.8 369.0)" fill="#bcbade" stroke="#a05e2c" stroke-width="0.8"/><ellipse cx="271.7" cy="368.7" rx="3.6" ry="4.1" transform="rotate(42 271.7 368.7)" fill="#bcbade" stroke="#a05e2c" stroke-width="0.8"/><ellipse cx="278.9" cy="369.4" rx="3.6" ry="3.4" transform="rotate(148 278.9 369.4)" fill="#b0acd8" stroke="#a05e2c" stroke-width="0.8"/><ellipse cx="287.1" cy="369.4" rx="3.5" ry="4.0" transform="rotate(107 287.1 369.4)" fill="#aaa8d8" stroke="#a05e2c" stroke-width="0.8"/><ellipse cx="296.6" cy="370.4" rx="3.8" ry="4.1" transform="rotate(134 296.6 370.4)" fill="#b0acd8" stroke="#a05e2c" stroke-width="0.8"/><ellipse cx="236.9" cy="377.2" rx="4.2" ry="4.3" transform="rotate(136 236.9 377.2)" fill="#e8dcd6" stroke="#a05e2c" stroke-width="0.8"/><ellipse cx="244.4" cy="376.3" rx="3.3" ry="3.6" transform="rotate(121 244.4 376.3)" fill="#e8dcd6" stroke="#a05e2c" stroke-width="0.8"/><ellipse cx="252.9" cy="375.8" rx="3.4" ry="3.6" transform="rotate(46 252.9 375.8)" fill="#aaa8d8" stroke="#a05e2c" stroke-width="0.8"/><ellipse cx="260.0" cy="375.9" rx="3.5" ry="3.2" transform="rotate(166 260.0 375.9)" fill="#aaa8d8" stroke="#a05e2c" stroke-width="0.8"/><ellipse cx="268.3" cy="376.5" rx="4.0" ry="3.1" transform="rotate(5 268.3 376.5)" fill="#aaa8d8" stroke="#a05e2c" stroke-width="0.8"/><ellipse cx="275.1" cy="375.6" rx="3.3" ry="3.2" transform="rotate(158 275.1 375.6)" fill="#aaa8d8" stroke="#a05e2c" stroke-width="0.8"/><ellipse cx="283.0" cy="377.0" rx="3.8" ry="3.4" transform="rotate(98 283.0 377.0)" fill="#e8dcd6" stroke="#a05e2c" stroke-width="0.8"/><ellipse cx="293.0" cy="377.9" rx="4.3" ry="4.0" transform="rotate(97 293.0 377.9)" fill="#bcbade" stroke="#a05e2c" stroke-width="0.8"/><ellipse cx="239.4" cy="383.9" rx="3.8" ry="3.2" transform="rotate(57 239.4 383.9)" fill="#c8c0dc" stroke="#a05e2c" stroke-width="0.8"/><ellipse cx="248.5" cy="383.1" rx="3.3" ry="3.4" transform="rotate(37 248.5 383.1)" fill="#c8c0dc" stroke="#a05e2c" stroke-width="0.8"/><ellipse cx="254.8" cy="382.5" rx="3.3" ry="3.5" transform="rotate(16 254.8 382.5)" fill="#aaa8d8" stroke="#a05e2c" stroke-width="0.8"/><ellipse cx="264.5" cy="383.0" rx="3.2" ry="3.2" transform="rotate(110 264.5 383.0)" fill="#bcbade" stroke="#a05e2c" stroke-width="0.8"/><ellipse cx="271.4" cy="383.0" rx="4.0" ry="3.6" transform="rotate(110 271.4 383.0)" fill="#aaa8d8" stroke="#a05e2c" stroke-width="0.8"/><ellipse cx="279.5" cy="384.0" rx="3.3" ry="3.2" transform="rotate(80 279.5 384.0)" fill="#bcbade" stroke="#a05e2c" stroke-width="0.8"/><ellipse cx="289.1" cy="384.2" rx="3.4" ry="3.9" transform="rotate(152 289.1 384.2)" fill="#aaa8d8" stroke="#a05e2c" stroke-width="0.8"/><ellipse cx="296.2" cy="382.6" rx="3.8" ry="3.9" transform="rotate(172 296.2 382.6)" fill="#aaa8d8" stroke="#a05e2c" stroke-width="0.8"/><ellipse cx="235.2" cy="389.6" rx="4.2" ry="3.5" transform="rotate(85 235.2 389.6)" fill="#bcbade" stroke="#a05e2c" stroke-width="0.8"/><ellipse cx="244.0" cy="391.6" rx="4.0" ry="3.6" transform="rotate(112 244.0 391.6)" fill="#b0acd8" stroke="#a05e2c" stroke-width="0.8"/><ellipse cx="253.2" cy="390.3" rx="3.6" ry="3.6" transform="rotate(177 253.2 390.3)" fill="#b4b2dc" stroke="#a05e2c" stroke-width="0.8"/><ellipse cx="259.0" cy="390.1" rx="4.1" ry="3.7" transform="rotate(74 259.0 390.1)" fill="#c8c0dc" stroke="#a05e2c" stroke-width="0.8"/><ellipse cx="266.8" cy="390.5" rx="3.7" ry="4.2" transform="rotate(81 266.8 390.5)" fill="#b0acd8" stroke="#a05e2c" stroke-width="0.8"/><ellipse cx="275.3" cy="390.8" rx="3.2" ry="4.1" transform="rotate(122 275.3 390.8)" fill="#b0acd8" stroke="#a05e2c" stroke-width="0.8"/><ellipse cx="283.7" cy="391.6" rx="3.1" ry="3.3" transform="rotate(144 283.7 391.6)" fill="#bcbade" stroke="#a05e2c" stroke-width="0.8"/><ellipse cx="291.3" cy="390.7" rx="3.5" ry="4.0" transform="rotate(40 291.3 390.7)" fill="#b4b2dc" stroke="#a05e2c" stroke-width="0.8"/><ellipse cx="240.6" cy="397.2" rx="3.2" ry="3.8" transform="rotate(17 240.6 397.2)" fill="#b4b2dc" stroke="#a05e2c" stroke-width="0.8"/><ellipse cx="247.0" cy="398.3" rx="3.4" ry="3.8" transform="rotate(85 247.0 398.3)" fill="#e8dcd6" stroke="#a05e2c" stroke-width="0.8"/><ellipse cx="256.5" cy="396.4" rx="3.9" ry="3.9" transform="rotate(25 256.5 396.4)" fill="#b4b2dc" stroke="#a05e2c" stroke-width="0.8"/><ellipse cx="264.5" cy="397.5" rx="3.8" ry="3.3" transform="rotate(98 264.5 397.5)" fill="#b0acd8" stroke="#a05e2c" stroke-width="0.8"/><ellipse cx="272.7" cy="396.9" rx="4.0" ry="3.7" transform="rotate(123 272.7 396.9)" fill="#b4b2dc" stroke="#a05e2c" stroke-width="0.8"/><ellipse cx="281.1" cy="398.2" rx="3.2" ry="3.6" transform="rotate(24 281.1 398.2)" fill="#bcbade" stroke="#a05e2c" stroke-width="0.8"/><ellipse cx="287.5" cy="396.9" rx="3.5" ry="3.8" transform="rotate(144 287.5 396.9)" fill="#b4b2dc" stroke="#a05e2c" stroke-width="0.8"/><ellipse cx="295.8" cy="397.9" rx="3.2" ry="3.4" transform="rotate(112 295.8 397.9)" fill="#b0acd8" stroke="#a05e2c" stroke-width="0.8"/><ellipse cx="236.8" cy="403.5" rx="4.1" ry="3.9" transform="rotate(91 236.8 403.5)" fill="#c8c0dc" stroke="#a05e2c" stroke-width="0.8"/><ellipse cx="243.2" cy="404.2" rx="3.5" ry="3.4" transform="rotate(147 243.2 404.2)" fill="#e8dcd6" stroke="#a05e2c" stroke-width="0.8"/><ellipse cx="252.9" cy="405.6" rx="3.9" ry="3.1" transform="rotate(36 252.9 405.6)" fill="#e8dcd6" stroke="#a05e2c" stroke-width="0.8"/><ellipse cx="259.5" cy="403.8" rx="3.4" ry="3.4" transform="rotate(72 259.5 403.8)" fill="#aaa8d8" stroke="#a05e2c" stroke-width="0.8"/><ellipse cx="267.9" cy="404.5" rx="4.1" ry="3.8" transform="rotate(85 267.9 404.5)" fill="#aaa8d8" stroke="#a05e2c" stroke-width="0.8"/><ellipse cx="277.1" cy="405.0" rx="3.7" ry="3.7" transform="rotate(50 277.1 405.0)" fill="#aaa8d8" stroke="#a05e2c" stroke-width="0.8"/><ellipse cx="284.5" cy="403.8" rx="3.9" ry="3.9" transform="rotate(118 284.5 403.8)" fill="#c8c0dc" stroke="#a05e2c" stroke-width="0.8"/><ellipse cx="292.5" cy="404.2" rx="3.7" ry="3.9" transform="rotate(38 292.5 404.2)" fill="#b4b2dc" stroke="#a05e2c" stroke-width="0.8"/><ellipse cx="240.2" cy="410.5" rx="3.9" ry="4.0" transform="rotate(113 240.2 410.5)" fill="#c8c0dc" stroke="#a05e2c" stroke-width="0.8"/><ellipse cx="248.2" cy="412.3" rx="3.2" ry="3.6" transform="rotate(97 248.2 412.3)" fill="#e8dcd6" stroke="#a05e2c" stroke-width="0.8"/><ellipse cx="256.0" cy="411.1" rx="4.0" ry="4.0" transform="rotate(150 256.0 411.1)" fill="#e8dcd6" stroke="#a05e2c" stroke-width="0.8"/><ellipse cx="264.5" cy="411.3" rx="3.7" ry="4.1" transform="rotate(179 264.5 411.3)" fill="#b0acd8" stroke="#a05e2c" stroke-width="0.8"/><ellipse cx="272.6" cy="411.7" rx="3.7" ry="3.6" transform="rotate(34 272.6 411.7)" fill="#bcbade" stroke="#a05e2c" stroke-width="0.8"/><ellipse cx="279.3" cy="411.6" rx="4.4" ry="4.3" transform="rotate(83 279.3 411.6)" fill="#b4b2dc" stroke="#a05e2c" stroke-width="0.8"/><ellipse cx="289.1" cy="411.7" rx="4.3" ry="3.3" transform="rotate(58 289.1 411.7)" fill="#aaa8d8" stroke="#a05e2c" stroke-width="0.8"/><ellipse cx="296.5" cy="412.3" rx="4.0" ry="3.7" transform="rotate(12 296.5 412.3)" fill="#aaa8d8" stroke="#a05e2c" stroke-width="0.8"/></g><ellipse cx="263" cy="361" rx="6" ry="5" fill="#f0e4dc" opacity="0.8"/></g><rect x="240.0" y="353.0" width="51.799999999999955" height="54.200000000000045" fill="none" stroke="#111" stroke-width="1.3"/></g><rect x="159.7" y="325.8" width="132.1" height="79.4" fill="none" stroke="#1a1a1a" stroke-width="1.3"/><g clip-path="url(#c19)"><rect x="297.3" y="325.8" width="132.5" height="79.4" fill="#66301a"/><g filter="url(#b20)"><ellipse cx="310" cy="390" rx="14" ry="14" fill="#8c6a80" opacity="1"/><ellipse cx="318" cy="370" rx="8" ry="12" fill="#8e7088" opacity="1"/><ellipse cx="358" cy="398" rx="18" ry="10" fill="#d8c4b4" opacity="1"/><ellipse cx="323" cy="399" rx="5" ry="9" fill="#c8a080" opacity="1"/><ellipse cx="345" cy="365" rx="9" ry="36" transform="rotate(30 345 365)" fill="#5e2c10"/></g><rect x="297.3" y="325.8" width="132.5" height="79.4" filter="url(#n21)" opacity="0.9"/><rect x="297.3" y="325.8" width="132.5" height="79.4" filter="url(#n22)" opacity="0.8"/><rect x="297.3" y="325.8" width="132.5" height="79.4" filter="url(#n23)" opacity="1"/><rect x="297.3" y="325.8" width="132.5" height="79.4" filter="url(#n24)" opacity="0.6"/><g filter="url(#b25)"><polygon points="296,325 296,372.5 303,368 311,363.6 318,355 325.7,347.3 336,339 346.4,333.9 353.9,328.7 358,327 296,325" fill="#f4f2f1"/><polygon points="384,326 384,329.5 389,335 393,341.3 393,353 431,353 431,326" fill="#f4f2f1"/><polygon points="356.5,325 364,325 361,341" fill="#f4f2f1"/></g><g clip-path="url(#c26)"><g filter="url(#ib27)"><rect x="377.0" y="353.0" width="52.80000000000001" height="52.200000000000045" fill="#3c1804"/><ellipse cx="371.8" cy="348.5" rx="3.5" ry="3.4" transform="rotate(69 371.8 348.5)" fill="#e2d2c8" stroke="#6a3010" stroke-width="1.6"/><ellipse cx="380.2" cy="349.3" rx="3.6" ry="3.4" transform="rotate(34 380.2 349.3)" fill="#b8a8c8" stroke="#6a3010" stroke-width="1.6"/><ellipse cx="393.1" cy="348.1" rx="3.6" ry="3.3" transform="rotate(1 393.1 348.1)" fill="#e2d2c8" stroke="#6a3010" stroke-width="1.6"/><ellipse cx="401.5" cy="347.0" rx="4.2" ry="3.9" transform="rotate(8 401.5 347.0)" fill="#b8a8c8" stroke="#6a3010" stroke-width="1.6"/><ellipse cx="410.7" cy="349.0" rx="4.2" ry="4.5" transform="rotate(68 410.7 349.0)" fill="#b8a8c8" stroke="#6a3010" stroke-width="1.6"/><ellipse cx="421.1" cy="348.5" rx="3.7" ry="3.5" transform="rotate(67 421.1 348.5)" fill="#d0a888" stroke="#6a3010" stroke-width="1.6"/><ellipse cx="431.0" cy="348.1" rx="3.8" ry="3.3" transform="rotate(171 431.0 348.1)" fill="#b8a8c8" stroke="#6a3010" stroke-width="1.6"/><ellipse cx="377.7" cy="357.9" rx="4.1" ry="3.8" transform="rotate(96 377.7 357.9)" fill="#b8a8c8" stroke="#6a3010" stroke-width="1.6"/><ellipse cx="386.4" cy="358.0" rx="3.5" ry="4.0" transform="rotate(77 386.4 358.0)" fill="#c89c80" stroke="#6a3010" stroke-width="1.6"/><ellipse cx="395.0" cy="355.6" rx="4.0" ry="3.4" transform="rotate(162 395.0 355.6)" fill="#d0a888" stroke="#6a3010" stroke-width="1.6"/><ellipse cx="406.2" cy="355.8" rx="3.4" ry="4.0" transform="rotate(169 406.2 355.8)" fill="#e2d2c8" stroke="#6a3010" stroke-width="1.6"/><ellipse cx="414.9" cy="356.8" rx="4.1" ry="4.0" transform="rotate(132 414.9 356.8)" fill="#c89c80" stroke="#6a3010" stroke-width="1.6"/><ellipse cx="425.6" cy="358.0" rx="4.2" ry="4.5" transform="rotate(129 425.6 358.0)" fill="#c89c80" stroke="#6a3010" stroke-width="1.6"/><ellipse cx="435.2" cy="355.4" rx="3.7" ry="4.5" transform="rotate(8 435.2 355.4)" fill="#b8a8c8" stroke="#6a3010" stroke-width="1.6"/><ellipse cx="373.6" cy="365.1" rx="4.3" ry="4.4" transform="rotate(68 373.6 365.1)" fill="#d0a888" stroke="#6a3010" stroke-width="1.6"/><ellipse cx="382.9" cy="365.1" rx="3.5" ry="4.0" transform="rotate(5 382.9 365.1)" fill="#d0a888" stroke="#6a3010" stroke-width="1.6"/><ellipse cx="392.6" cy="366.5" rx="3.7" ry="3.9" transform="rotate(171 392.6 366.5)" fill="#d0a888" stroke="#6a3010" stroke-width="1.6"/><ellipse cx="400.7" cy="363.7" rx="3.8" ry="3.6" transform="rotate(179 400.7 363.7)" fill="#c89c80" stroke="#6a3010" stroke-width="1.6"/><ellipse cx="411.9" cy="363.3" rx="4.1" ry="4.3" transform="rotate(19 411.9 363.3)" fill="#c89c80" stroke="#6a3010" stroke-width="1.6"/><ellipse cx="420.9" cy="364.3" rx="4.0" ry="3.1" transform="rotate(58 420.9 364.3)" fill="#d0a888" stroke="#6a3010" stroke-width="1.6"/><ellipse cx="429.8" cy="366.5" rx="3.8" ry="3.7" transform="rotate(180 429.8 366.5)" fill="#c89c80" stroke="#6a3010" stroke-width="1.6"/><ellipse cx="377.3" cy="371.6" rx="3.5" ry="3.8" transform="rotate(170 377.3 371.6)" fill="#c09070" stroke="#6a3010" stroke-width="1.6"/><ellipse cx="387.0" cy="372.0" rx="3.6" ry="3.7" transform="rotate(63 387.0 372.0)" fill="#e2d2c8" stroke="#6a3010" stroke-width="1.6"/><ellipse cx="395.6" cy="374.7" rx="4.7" ry="4.0" transform="rotate(42 395.6 374.7)" fill="#b8a8c8" stroke="#6a3010" stroke-width="1.6"/><ellipse cx="405.7" cy="373.2" rx="4.2" ry="4.3" transform="rotate(75 405.7 373.2)" fill="#b8a8c8" stroke="#6a3010" stroke-width="1.6"/><ellipse cx="415.6" cy="373.5" rx="4.2" ry="4.1" transform="rotate(93 415.6 373.5)" fill="#c89c80" stroke="#6a3010" stroke-width="1.6"/><ellipse cx="424.8" cy="373.9" rx="3.5" ry="3.7" transform="rotate(160 424.8 373.9)" fill="#b8a8c8" stroke="#6a3010" stroke-width="1.6"/><ellipse cx="436.2" cy="373.2" rx="3.3" ry="4.0" transform="rotate(165 436.2 373.2)" fill="#c09070" stroke="#6a3010" stroke-width="1.6"/><ellipse cx="371.9" cy="381.7" rx="4.0" ry="3.6" transform="rotate(154 371.9 381.7)" fill="#c89c80" stroke="#6a3010" stroke-width="1.6"/><ellipse cx="382.2" cy="380.0" rx="3.7" ry="3.6" transform="rotate(105 382.2 380.0)" fill="#c09070" stroke="#6a3010" stroke-width="1.6"/><ellipse cx="392.0" cy="381.0" rx="4.3" ry="4.2" transform="rotate(97 392.0 381.0)" fill="#e2d2c8" stroke="#6a3010" stroke-width="1.6"/><ellipse cx="399.4" cy="380.0" rx="4.2" ry="4.4" transform="rotate(107 399.4 380.0)" fill="#e2d2c8" stroke="#6a3010" stroke-width="1.6"/><ellipse cx="409.8" cy="381.3" rx="4.3" ry="3.9" transform="rotate(39 409.8 381.3)" fill="#c89c80" stroke="#6a3010" stroke-width="1.6"/><ellipse cx="419.7" cy="380.8" rx="3.5" ry="4.1" transform="rotate(36 419.7 380.8)" fill="#d0a888" stroke="#6a3010" stroke-width="1.6"/><ellipse cx="429.1" cy="381.0" rx="3.8" ry="3.7" transform="rotate(139 429.1 381.0)" fill="#c89c80" stroke="#6a3010" stroke-width="1.6"/><ellipse cx="377.2" cy="390.6" rx="3.4" ry="3.7" transform="rotate(126 377.2 390.6)" fill="#c09070" stroke="#6a3010" stroke-width="1.6"/><ellipse cx="387.6" cy="388.9" rx="3.6" ry="4.0" transform="rotate(148 387.6 388.9)" fill="#c09070" stroke="#6a3010" stroke-width="1.6"/><ellipse cx="396.9" cy="388.4" rx="3.3" ry="4.4" transform="rotate(13 396.9 388.4)" fill="#c89c80" stroke="#6a3010" stroke-width="1.6"/><ellipse cx="406.9" cy="389.6" rx="4.1" ry="4.2" transform="rotate(8 406.9 389.6)" fill="#b8a8c8" stroke="#6a3010" stroke-width="1.6"/><ellipse cx="414.9" cy="390.3" rx="4.0" ry="3.8" transform="rotate(140 414.9 390.3)" fill="#c09070" stroke="#6a3010" stroke-width="1.6"/><ellipse cx="424.1" cy="388.5" rx="4.3" ry="4.2" transform="rotate(44 424.1 388.5)" fill="#d0a888" stroke="#6a3010" stroke-width="1.6"/><ellipse cx="435.6" cy="390.9" rx="3.9" ry="3.2" transform="rotate(112 435.6 390.9)" fill="#c09070" stroke="#6a3010" stroke-width="1.6"/><ellipse cx="373.2" cy="398.6" rx="4.1" ry="3.4" transform="rotate(156 373.2 398.6)" fill="#d0a888" stroke="#6a3010" stroke-width="1.6"/><ellipse cx="380.6" cy="397.4" rx="3.4" ry="3.3" transform="rotate(144 380.6 397.4)" fill="#e2d2c8" stroke="#6a3010" stroke-width="1.6"/><ellipse cx="390.9" cy="397.8" rx="3.2" ry="4.1" transform="rotate(53 390.9 397.8)" fill="#d0a888" stroke="#6a3010" stroke-width="1.6"/><ellipse cx="402.4" cy="396.9" rx="3.7" ry="4.1" transform="rotate(61 402.4 396.9)" fill="#e2d2c8" stroke="#6a3010" stroke-width="1.6"/><ellipse cx="411.9" cy="399.7" rx="4.0" ry="4.1" transform="rotate(87 411.9 399.7)" fill="#d0a888" stroke="#6a3010" stroke-width="1.6"/><ellipse cx="421.6" cy="397.1" rx="4.3" ry="4.5" transform="rotate(88 421.6 397.1)" fill="#c09070" stroke="#6a3010" stroke-width="1.6"/><ellipse cx="430.3" cy="398.1" rx="4.1" ry="3.6" transform="rotate(49 430.3 398.1)" fill="#c09070" stroke="#6a3010" stroke-width="1.6"/><ellipse cx="376.1" cy="404.9" rx="3.3" ry="4.2" transform="rotate(164 376.1 404.9)" fill="#b8a8c8" stroke="#6a3010" stroke-width="1.6"/><ellipse cx="387.6" cy="404.9" rx="3.7" ry="3.9" transform="rotate(122 387.6 404.9)" fill="#d0a888" stroke="#6a3010" stroke-width="1.6"/><ellipse cx="397.6" cy="407.7" rx="4.3" ry="3.7" transform="rotate(122 397.6 407.7)" fill="#e2d2c8" stroke="#6a3010" stroke-width="1.6"/><ellipse cx="404.2" cy="407.2" rx="3.4" ry="4.4" transform="rotate(61 404.2 407.2)" fill="#e2d2c8" stroke="#6a3010" stroke-width="1.6"/><ellipse cx="415.9" cy="406.5" rx="3.8" ry="3.3" transform="rotate(89 415.9 406.5)" fill="#c89c80" stroke="#6a3010" stroke-width="1.6"/><ellipse cx="425.4" cy="405.9" rx="3.6" ry="3.9" transform="rotate(131 425.4 405.9)" fill="#e2d2c8" stroke="#6a3010" stroke-width="1.6"/><ellipse cx="434.5" cy="407.3" rx="4.3" ry="4.4" transform="rotate(27 434.5 407.3)" fill="#c09070" stroke="#6a3010" stroke-width="1.6"/><ellipse cx="372.3" cy="415.8" rx="4.1" ry="3.8" transform="rotate(22 372.3 415.8)" fill="#e2d2c8" stroke="#6a3010" stroke-width="1.6"/><ellipse cx="383.2" cy="415.7" rx="3.6" ry="3.8" transform="rotate(130 383.2 415.7)" fill="#c89c80" stroke="#6a3010" stroke-width="1.6"/><ellipse cx="391.8" cy="415.9" rx="3.4" ry="3.3" transform="rotate(34 391.8 415.9)" fill="#c89c80" stroke="#6a3010" stroke-width="1.6"/><ellipse cx="400.2" cy="414.8" rx="3.5" ry="3.3" transform="rotate(12 400.2 414.8)" fill="#b8a8c8" stroke="#6a3010" stroke-width="1.6"/><ellipse cx="411.5" cy="413.0" rx="4.1" ry="3.9" transform="rotate(133 411.5 413.0)" fill="#c09070" stroke="#6a3010" stroke-width="1.6"/><ellipse cx="418.9" cy="413.3" rx="3.2" ry="3.3" transform="rotate(10 418.9 413.3)" fill="#e2d2c8" stroke="#6a3010" stroke-width="1.6"/><ellipse cx="428.4" cy="414.7" rx="3.5" ry="4.1" transform="rotate(44 428.4 414.7)" fill="#c09070" stroke="#6a3010" stroke-width="1.6"/></g></g><rect x="377.0" y="353.0" width="52.80000000000001" height="54.200000000000045" fill="none" stroke="#111" stroke-width="1.3"/></g><rect x="297.3" y="325.8" width="132.5" height="79.4" fill="none" stroke="#1a1a1a" stroke-width="1.3"/><g clip-path="url(#c28)"><rect x="21.5" y="410.8" width="131.8" height="79.0" fill="#9c9ace"/><g filter="url(#b29)"><ellipse cx="128" cy="422" rx="28" ry="12" fill="#f2f0f4" opacity="1"/><ellipse cx="75" cy="455" rx="22" ry="22" fill="#c0b4c4" opacity="1"/><ellipse cx="28" cy="414" rx="10" ry="6" fill="#e4e2ee" opacity="1"/><ellipse cx="40" cy="480" rx="18" ry="10" fill="#908cc6" opacity="1"/><ellipse cx="82" cy="452" rx="8" ry="10" fill="#b8a0a0" opacity="1"/></g><rect x="21.5" y="410.8" width="131.8" height="79.0" filter="url(#n30)" opacity="0.4"/><rect x="21.5" y="410.8" width="131.8" height="79.0" filter="url(#n31)" opacity="0.85"/><rect x="21.5" y="410.8" width="131.8" height="79.0" filter="url(#n32)" opacity="0.7"/><rect x="21.5" y="410.8" width="131.8" height="79.0" filter="url(#n33)" opacity="0.5"/><g clip-path="url(#c34)"><g filter="url(#ib35)"><rect x="101.0" y="437.3" width="52.30000000000001" height="52.5" fill="#b88868"/><ellipse cx="97.5" cy="433.3" rx="3.7" ry="3.4" transform="rotate(150 97.5 433.3)" fill="#a2a0d0" stroke="#b07048" stroke-width="0.6"/><ellipse cx="105.1" cy="434.6" rx="4.0" ry="4.0" transform="rotate(159 105.1 434.6)" fill="#aaa8d6" stroke="#b07048" stroke-width="0.6"/><ellipse cx="111.0" cy="433.6" rx="3.6" ry="3.5" transform="rotate(178 111.0 433.6)" fill="#aaa8d6" stroke="#b07048" stroke-width="0.6"/><ellipse cx="116.9" cy="434.8" rx="3.9" ry="3.1" transform="rotate(8 116.9 434.8)" fill="#a2a0d0" stroke="#b07048" stroke-width="0.6"/><ellipse cx="124.7" cy="433.4" rx="3.3" ry="4.0" transform="rotate(61 124.7 433.4)" fill="#b4b2dc" stroke="#b07048" stroke-width="0.6"/><ellipse cx="131.2" cy="434.7" rx="3.9" ry="3.3" transform="rotate(176 131.2 434.7)" fill="#b4b2dc" stroke="#b07048" stroke-width="0.6"/><ellipse cx="137.5" cy="434.3" rx="3.0" ry="3.2" transform="rotate(49 137.5 434.3)" fill="#aaa8d6" stroke="#b07048" stroke-width="0.6"/><ellipse cx="143.8" cy="433.2" rx="3.9" ry="4.0" transform="rotate(2 143.8 433.2)" fill="#aaa8d6" stroke="#b07048" stroke-width="0.6"/><ellipse cx="150.6" cy="433.6" rx="3.5" ry="3.5" transform="rotate(133 150.6 433.6)" fill="#b4b2dc" stroke="#b07048" stroke-width="0.6"/><ellipse cx="157.9" cy="434.7" rx="4.0" ry="3.5" transform="rotate(70 157.9 434.7)" fill="#a2a0d0" stroke="#b07048" stroke-width="0.6"/><ellipse cx="101.2" cy="439.6" rx="3.1" ry="3.5" transform="rotate(175 101.2 439.6)" fill="#bcb4d0" stroke="#b07048" stroke-width="0.6"/><ellipse cx="108.2" cy="438.8" rx="3.6" ry="3.3" transform="rotate(37 108.2 438.8)" fill="#a2a0d0" stroke="#b07048" stroke-width="0.6"/><ellipse cx="113.8" cy="439.8" rx="3.5" ry="3.4" transform="rotate(86 113.8 439.8)" fill="#bcb4d0" stroke="#b07048" stroke-width="0.6"/><ellipse cx="121.8" cy="439.1" rx="4.0" ry="3.3" transform="rotate(136 121.8 439.1)" fill="#bcb4d0" stroke="#b07048" stroke-width="0.6"/><ellipse cx="127.7" cy="439.3" rx="4.0" ry="4.0" transform="rotate(74 127.7 439.3)" fill="#bcb4d0" stroke="#b07048" stroke-width="0.6"/><ellipse cx="133.6" cy="439.8" rx="3.5" ry="3.8" transform="rotate(5 133.6 439.8)" fill="#b4b2dc" stroke="#b07048" stroke-width="0.6"/><ellipse cx="139.7" cy="439.2" rx="3.6" ry="3.6" transform="rotate(115 139.7 439.2)" fill="#a2a0d0" stroke="#b07048" stroke-width="0.6"/><ellipse cx="146.7" cy="439.4" rx="3.2" ry="4.2" transform="rotate(30 146.7 439.4)" fill="#a2a0d0" stroke="#b07048" stroke-width="0.6"/><ellipse cx="152.9" cy="440.1" rx="3.8" ry="4.1" transform="rotate(46 152.9 440.1)" fill="#aaa8d6" stroke="#b07048" stroke-width="0.6"/><ellipse cx="98.2" cy="446.3" rx="4.3" ry="3.9" transform="rotate(21 98.2 446.3)" fill="#b4b2dc" stroke="#b07048" stroke-width="0.6"/><ellipse cx="105.2" cy="446.0" rx="3.0" ry="3.6" transform="rotate(37 105.2 446.0)" fill="#a2a0d0" stroke="#b07048" stroke-width="0.6"/><ellipse cx="111.1" cy="446.1" rx="3.6" ry="4.3" transform="rotate(21 111.1 446.1)" fill="#aaa8d6" stroke="#b07048" stroke-width="0.6"/><ellipse cx="117.4" cy="444.7" rx="3.3" ry="3.6" transform="rotate(119 117.4 444.7)" fill="#a2a0d0" stroke="#b07048" stroke-width="0.6"/><ellipse cx="123.8" cy="444.5" rx="4.1" ry="4.5" transform="rotate(162 123.8 444.5)" fill="#aaa8d6" stroke="#b07048" stroke-width="0.6"/><ellipse cx="131.3" cy="445.2" rx="3.8" ry="3.8" transform="rotate(122 131.3 445.2)" fill="#aaa8d6" stroke="#b07048" stroke-width="0.6"/><ellipse cx="138.3" cy="445.3" rx="3.0" ry="3.3" transform="rotate(59 138.3 445.3)" fill="#a2a0d0" stroke="#b07048" stroke-width="0.6"/><ellipse cx="143.0" cy="444.8" rx="3.9" ry="3.1" transform="rotate(136 143.0 444.8)" fill="#a2a0d0" stroke="#b07048" stroke-width="0.6"/><ellipse cx="149.6" cy="445.4" rx="4.0" ry="3.9" transform="rotate(123 149.6 445.4)" fill="#aaa8d6" stroke="#b07048" stroke-width="0.6"/><ellipse cx="156.4" cy="445.5" rx="4.1" ry="3.6" transform="rotate(166 156.4 445.5)" fill="#aaa8d6" stroke="#b07048" stroke-width="0.6"/><ellipse cx="102.0" cy="451.1" rx="3.2" ry="3.3" transform="rotate(25 102.0 451.1)" fill="#bcb4d0" stroke="#b07048" stroke-width="0.6"/><ellipse cx="106.7" cy="451.0" rx="3.7" ry="3.6" transform="rotate(58 106.7 451.0)" fill="#bcb4d0" stroke="#b07048" stroke-width="0.6"/><ellipse cx="114.9" cy="451.1" rx="4.1" ry="4.2" transform="rotate(137 114.9 451.1)" fill="#bcb4d0" stroke="#b07048" stroke-width="0.6"/><ellipse cx="120.3" cy="450.6" rx="3.2" ry="3.4" transform="rotate(53 120.3 450.6)" fill="#aaa8d6" stroke="#b07048" stroke-width="0.6"/><ellipse cx="126.7" cy="450.3" rx="3.9" ry="3.5" transform="rotate(112 126.7 450.3)" fill="#a2a0d0" stroke="#b07048" stroke-width="0.6"/><ellipse cx="135.0" cy="451.0" rx="3.6" ry="3.7" transform="rotate(20 135.0 451.0)" fill="#a2a0d0" stroke="#b07048" stroke-width="0.6"/><ellipse cx="141.2" cy="451.6" rx="3.4" ry="3.6" transform="rotate(177 141.2 451.6)" fill="#b4b2dc" stroke="#b07048" stroke-width="0.6"/><ellipse cx="146.6" cy="451.9" rx="3.0" ry="3.1" transform="rotate(53 146.6 451.9)" fill="#b4b2dc" stroke="#b07048" stroke-width="0.6"/><ellipse cx="153.5" cy="451.5" rx="4.4" ry="3.9" transform="rotate(7 153.5 451.5)" fill="#a2a0d0" stroke="#b07048" stroke-width="0.6"/><ellipse cx="98.3" cy="456.9" rx="4.1" ry="4.1" transform="rotate(29 98.3 456.9)" fill="#a2a0d0" stroke="#b07048" stroke-width="0.6"/><ellipse cx="103.8" cy="457.7" rx="3.9" ry="3.6" transform="rotate(1 103.8 457.7)" fill="#bcb4d0" stroke="#b07048" stroke-width="0.6"/><ellipse cx="111.8" cy="457.8" rx="3.4" ry="3.7" transform="rotate(166 111.8 457.8)" fill="#b4b2dc" stroke="#b07048" stroke-width="0.6"/><ellipse cx="118.3" cy="456.1" rx="3.1" ry="3.2" transform="rotate(108 118.3 456.1)" fill="#bcb4d0" stroke="#b07048" stroke-width="0.6"/><ellipse cx="123.2" cy="456.2" rx="4.2" ry="3.7" transform="rotate(175 123.2 456.2)" fill="#aaa8d6" stroke="#b07048" stroke-width="0.6"/><ellipse cx="131.2" cy="457.7" rx="3.3" ry="3.8" transform="rotate(108 131.2 457.7)" fill="#aaa8d6" stroke="#b07048" stroke-width="0.6"/><ellipse cx="138.1" cy="455.9" rx="3.6" ry="2.9" transform="rotate(79 138.1 455.9)" fill="#aaa8d6" stroke="#b07048" stroke-width="0.6"/><ellipse cx="144.5" cy="457.4" rx="3.6" ry="3.1" transform="rotate(109 144.5 457.4)" fill="#b4b2dc" stroke="#b07048" stroke-width="0.6"/><ellipse cx="151.2" cy="456.3" rx="3.6" ry="3.5" transform="rotate(114 151.2 456.3)" fill="#b4b2dc" stroke="#b07048" stroke-width="0.6"/><ellipse cx="157.9" cy="457.4" rx="3.8" ry="4.0" transform="rotate(151 157.9 457.4)" fill="#b4b2dc" stroke="#b07048" stroke-width="0.6"/><ellipse cx="100.1" cy="461.7" rx="3.4" ry="3.5" transform="rotate(97 100.1 461.7)" fill="#a2a0d0" stroke="#b07048" stroke-width="0.6"/><ellipse cx="108.3" cy="462.8" rx="3.5" ry="4.0" transform="rotate(35 108.3 462.8)" fill="#b4b2dc" stroke="#b07048" stroke-width="0.6"/><ellipse cx="114.7" cy="462.6" rx="3.9" ry="3.1" transform="rotate(113 114.7 462.6)" fill="#bcb4d0" stroke="#b07048" stroke-width="0.6"/><ellipse cx="121.4" cy="461.8" rx="4.4" ry="3.4" transform="rotate(128 121.4 461.8)" fill="#b4b2dc" stroke="#b07048" stroke-width="0.6"/><ellipse cx="128.0" cy="462.2" rx="3.6" ry="3.4" transform="rotate(169 128.0 462.2)" fill="#aaa8d6" stroke="#b07048" stroke-width="0.6"/><ellipse cx="134.9" cy="461.8" rx="4.0" ry="3.8" transform="rotate(98 134.9 461.8)" fill="#aaa8d6" stroke="#b07048" stroke-width="0.6"/><ellipse cx="141.4" cy="462.6" rx="3.8" ry="3.5" transform="rotate(159 141.4 462.6)" fill="#a2a0d0" stroke="#b07048" stroke-width="0.6"/><ellipse cx="147.7" cy="461.7" rx="3.5" ry="3.8" transform="rotate(51 147.7 461.7)" fill="#a2a0d0" stroke="#b07048" stroke-width="0.6"/><ellipse cx="153.4" cy="463.2" rx="3.9" ry="3.3" transform="rotate(75 153.4 463.2)" fill="#aaa8d6" stroke="#b07048" stroke-width="0.6"/><ellipse cx="97.0" cy="469.0" rx="3.6" ry="3.9" transform="rotate(165 97.0 469.0)" fill="#aaa8d6" stroke="#b07048" stroke-width="0.6"/><ellipse cx="104.3" cy="468.0" rx="3.0" ry="3.4" transform="rotate(14 104.3 468.0)" fill="#a2a0d0" stroke="#b07048" stroke-width="0.6"/><ellipse cx="111.3" cy="467.3" rx="4.2" ry="3.3" transform="rotate(36 111.3 467.3)" fill="#bcb4d0" stroke="#b07048" stroke-width="0.6"/><ellipse cx="117.5" cy="468.7" rx="4.0" ry="3.3" transform="rotate(165 117.5 468.7)" fill="#b4b2dc" stroke="#b07048" stroke-width="0.6"/><ellipse cx="123.6" cy="469.0" rx="4.0" ry="2.9" transform="rotate(1 123.6 469.0)" fill="#aaa8d6" stroke="#b07048" stroke-width="0.6"/><ellipse cx="131.7" cy="468.5" rx="3.8" ry="3.8" transform="rotate(12 131.7 468.5)" fill="#a2a0d0" stroke="#b07048" stroke-width="0.6"/><ellipse cx="136.9" cy="469.1" rx="3.9" ry="3.8" transform="rotate(92 136.9 469.1)" fill="#a2a0d0" stroke="#b07048" stroke-width="0.6"/><ellipse cx="143.5" cy="469.0" rx="4.1" ry="3.4" transform="rotate(79 143.5 469.0)" fill="#aaa8d6" stroke="#b07048" stroke-width="0.6"/><ellipse cx="150.4" cy="467.6" rx="4.1" ry="4.2" transform="rotate(93 150.4 467.6)" fill="#b4b2dc" stroke="#b07048" stroke-width="0.6"/><ellipse cx="157.4" cy="467.6" rx="3.8" ry="3.2" transform="rotate(105 157.4 467.6)" fill="#a2a0d0" stroke="#b07048" stroke-width="0.6"/><ellipse cx="101.6" cy="473.4" rx="3.6" ry="3.0" transform="rotate(8 101.6 473.4)" fill="#aaa8d6" stroke="#b07048" stroke-width="0.6"/><ellipse cx="107.8" cy="473.7" rx="3.6" ry="3.5" transform="rotate(55 107.8 473.7)" fill="#a2a0d0" stroke="#b07048" stroke-width="0.6"/><ellipse cx="114.0" cy="474.9" rx="3.9" ry="3.1" transform="rotate(65 114.0 474.9)" fill="#a2a0d0" stroke="#b07048" stroke-width="0.6"/><ellipse cx="120.5" cy="473.6" rx="3.4" ry="3.9" transform="rotate(31 120.5 473.6)" fill="#bcb4d0" stroke="#b07048" stroke-width="0.6"/><ellipse cx="128.3" cy="474.7" rx="3.9" ry="3.5" transform="rotate(5 128.3 474.7)" fill="#bcb4d0" stroke="#b07048" stroke-width="0.6"/><ellipse cx="134.9" cy="473.3" rx="3.5" ry="3.9" transform="rotate(103 134.9 473.3)" fill="#b4b2dc" stroke="#b07048" stroke-width="0.6"/><ellipse cx="140.7" cy="474.9" rx="4.1" ry="3.3" transform="rotate(29 140.7 474.9)" fill="#bcb4d0" stroke="#b07048" stroke-width="0.6"/><ellipse cx="146.4" cy="474.3" rx="4.3" ry="4.1" transform="rotate(96 146.4 474.3)" fill="#a2a0d0" stroke="#b07048" stroke-width="0.6"/><ellipse cx="154.0" cy="474.7" rx="3.5" ry="4.2" transform="rotate(30 154.0 474.7)" fill="#a2a0d0" stroke="#b07048" stroke-width="0.6"/><ellipse cx="97.5" cy="479.9" rx="4.3" ry="4.2" transform="rotate(59 97.5 479.9)" fill="#aaa8d6" stroke="#b07048" stroke-width="0.6"/><ellipse cx="103.9" cy="479.2" rx="3.4" ry="3.3" transform="rotate(179 103.9 479.2)" fill="#b4b2dc" stroke="#b07048" stroke-width="0.6"/><ellipse cx="111.9" cy="480.5" rx="3.7" ry="3.2" transform="rotate(170 111.9 480.5)" fill="#aaa8d6" stroke="#b07048" stroke-width="0.6"/><ellipse cx="118.1" cy="479.3" rx="3.3" ry="3.3" transform="rotate(174 118.1 479.3)" fill="#b4b2dc" stroke="#b07048" stroke-width="0.6"/><ellipse cx="123.5" cy="479.8" rx="3.3" ry="3.5" transform="rotate(171 123.5 479.8)" fill="#bcb4d0" stroke="#b07048" stroke-width="0.6"/><ellipse cx="130.4" cy="480.6" rx="3.5" ry="3.3" transform="rotate(142 130.4 480.6)" fill="#bcb4d0" stroke="#b07048" stroke-width="0.6"/><ellipse cx="136.4" cy="480.7" rx="3.1" ry="3.4" transform="rotate(71 136.4 480.7)" fill="#aaa8d6" stroke="#b07048" stroke-width="0.6"/><ellipse cx="144.1" cy="479.4" rx="3.8" ry="4.1" transform="rotate(100 144.1 479.4)" fill="#b4b2dc" stroke="#b07048" stroke-width="0.6"/><ellipse cx="149.9" cy="480.6" rx="3.4" ry="3.4" transform="rotate(123 149.9 480.6)" fill="#a2a0d0" stroke="#b07048" stroke-width="0.6"/><ellipse cx="156.4" cy="479.2" rx="3.6" ry="3.3" transform="rotate(68 156.4 479.2)" fill="#aaa8d6" stroke="#b07048" stroke-width="0.6"/><ellipse cx="100.3" cy="486.0" rx="3.9" ry="4.4" transform="rotate(78 100.3 486.0)" fill="#b4b2dc" stroke="#b07048" stroke-width="0.6"/><ellipse cx="108.5" cy="485.0" rx="3.6" ry="3.2" transform="rotate(70 108.5 485.0)" fill="#aaa8d6" stroke="#b07048" stroke-width="0.6"/><ellipse cx="113.4" cy="484.5" rx="3.7" ry="3.1" transform="rotate(18 113.4 484.5)" fill="#b4b2dc" stroke="#b07048" stroke-width="0.6"/><ellipse cx="119.9" cy="486.4" rx="3.4" ry="3.7" transform="rotate(136 119.9 486.4)" fill="#b4b2dc" stroke="#b07048" stroke-width="0.6"/><ellipse cx="127.8" cy="485.9" rx="3.6" ry="4.0" transform="rotate(160 127.8 485.9)" fill="#bcb4d0" stroke="#b07048" stroke-width="0.6"/><ellipse cx="134.7" cy="485.9" rx="4.3" ry="4.1" transform="rotate(144 134.7 485.9)" fill="#bcb4d0" stroke="#b07048" stroke-width="0.6"/><ellipse cx="141.0" cy="485.5" rx="4.2" ry="4.3" transform="rotate(150 141.0 485.5)" fill="#a2a0d0" stroke="#b07048" stroke-width="0.6"/><ellipse cx="147.9" cy="485.4" rx="3.4" ry="3.7" transform="rotate(158 147.9 485.4)" fill="#bcb4d0" stroke="#b07048" stroke-width="0.6"/><ellipse cx="154.5" cy="485.0" rx="3.9" ry="3.3" transform="rotate(60 154.5 485.0)" fill="#b4b2dc" stroke="#b07048" stroke-width="0.6"/><ellipse cx="98.4" cy="490.8" rx="3.8" ry="4.1" transform="rotate(146 98.4 490.8)" fill="#aaa8d6" stroke="#b07048" stroke-width="0.6"/><ellipse cx="103.4" cy="491.9" rx="3.7" ry="3.9" transform="rotate(42 103.4 491.9)" fill="#b4b2dc" stroke="#b07048" stroke-width="0.6"/><ellipse cx="110.2" cy="490.5" rx="4.4" ry="3.8" transform="rotate(96 110.2 490.5)" fill="#a2a0d0" stroke="#b07048" stroke-width="0.6"/><ellipse cx="117.0" cy="491.3" rx="3.8" ry="4.3" transform="rotate(151 117.0 491.3)" fill="#aaa8d6" stroke="#b07048" stroke-width="0.6"/><ellipse cx="123.5" cy="491.8" rx="4.1" ry="3.7" transform="rotate(134 123.5 491.8)" fill="#bcb4d0" stroke="#b07048" stroke-width="0.6"/><ellipse cx="131.5" cy="492.0" rx="3.4" ry="3.6" transform="rotate(28 131.5 492.0)" fill="#a2a0d0" stroke="#b07048" stroke-width="0.6"/><ellipse cx="138.0" cy="491.3" rx="4.1" ry="4.2" transform="rotate(175 138.0 491.3)" fill="#bcb4d0" stroke="#b07048" stroke-width="0.6"/><ellipse cx="144.7" cy="490.8" rx="4.0" ry="3.5" transform="rotate(91 144.7 490.8)" fill="#bcb4d0" stroke="#b07048" stroke-width="0.6"/><ellipse cx="150.7" cy="490.2" rx="4.1" ry="4.0" transform="rotate(46 150.7 490.2)" fill="#aaa8d6" stroke="#b07048" stroke-width="0.6"/><ellipse cx="157.8" cy="491.5" rx="3.9" ry="3.6" transform="rotate(152 157.8 491.5)" fill="#b4b2dc" stroke="#b07048" stroke-width="0.6"/></g></g><rect x="101.0" y="437.3" width="52.30000000000001" height="54.5" fill="none" stroke="#111" stroke-width="1.3"/></g><rect x="21.5" y="410.8" width="131.8" height="79.0" fill="none" stroke="#1a1a1a" stroke-width="1.3"/><g clip-path="url(#c36)"><rect x="159.7" y="410.8" width="132.1" height="79.0" fill="#c4c4de"/><g filter="url(#b37)"><ellipse cx="200" cy="450" rx="30" ry="20" fill="#bcbcdc" opacity="1"/><ellipse cx="250" cy="420" rx="25" ry="10" fill="#ccccE6" opacity="1"/></g><rect x="159.7" y="410.8" width="132.1" height="79.0" filter="url(#n38)" opacity="0.55"/><rect x="159.7" y="410.8" width="132.1" height="79.0" filter="url(#n39)" opacity="0.9"/><rect x="159.7" y="410.8" width="132.1" height="79.0" filter="url(#n40)" opacity="0.9"/><g clip-path="url(#c41)"><g filter="url(#ib42)"><rect x="240.0" y="437.3" width="51.799999999999955" height="52.5" fill="#ebe8f0"/><ellipse cx="237.5" cy="435.3" rx="2.8" ry="2.7" transform="rotate(134 237.5 435.3)" fill="#8c8acc"/><ellipse cx="241.9" cy="433.7" rx="2.5" ry="2.7" transform="rotate(82 241.9 433.7)" fill="#7c7ac4"/><ellipse cx="251.9" cy="432.4" rx="3.0" ry="2.8" transform="rotate(3 251.9 432.4)" fill="#8c8acc"/><ellipse cx="257.7" cy="434.1" rx="2.5" ry="2.5" transform="rotate(172 257.7 434.1)" fill="#a8a6d8"/><ellipse cx="284.3" cy="434.8" rx="3.1" ry="3.1" transform="rotate(86 284.3 434.8)" fill="#a8a6d8"/><ellipse cx="238.3" cy="441.2" rx="2.6" ry="2.3" transform="rotate(136 238.3 441.2)" fill="#7c7ac4"/><ellipse cx="260.3" cy="441.5" rx="3.2" ry="3.1" transform="rotate(78 260.3 441.5)" fill="#9a98d2"/><ellipse cx="267.0" cy="441.4" rx="2.9" ry="2.7" transform="rotate(56 267.0 441.4)" fill="#9a98d2"/><ellipse cx="276.4" cy="439.2" rx="3.0" ry="3.0" transform="rotate(90 276.4 439.2)" fill="#7c7ac4"/><ellipse cx="280.8" cy="438.3" rx="2.4" ry="2.3" transform="rotate(97 280.8 438.3)" fill="#9a98d2"/><ellipse cx="287.3" cy="440.5" rx="2.3" ry="2.5" transform="rotate(148 287.3 440.5)" fill="#8c8acc"/><ellipse cx="297.1" cy="439.8" rx="2.6" ry="2.1" transform="rotate(130 297.1 439.8)" fill="#8c8acc"/><ellipse cx="237.2" cy="444.4" rx="3.0" ry="2.7" transform="rotate(9 237.2 444.4)" fill="#8c8acc"/><ellipse cx="244.4" cy="447.1" rx="2.0" ry="2.3" transform="rotate(171 244.4 447.1)" fill="#8c8acc"/><ellipse cx="257.8" cy="444.2" rx="2.9" ry="2.6" transform="rotate(79 257.8 444.2)" fill="#7c7ac4"/><ellipse cx="279.4" cy="447.4" rx="2.4" ry="2.3" transform="rotate(29 279.4 447.4)" fill="#7c7ac4"/><ellipse cx="285.0" cy="446.0" rx="2.1" ry="2.2" transform="rotate(68 285.0 446.0)" fill="#7c7ac4"/><ellipse cx="293.4" cy="447.0" rx="2.1" ry="2.3" transform="rotate(21 293.4 447.0)" fill="#8c8acc"/><ellipse cx="241.6" cy="450.6" rx="2.5" ry="2.0" transform="rotate(78 241.6 450.6)" fill="#a8a6d8"/><ellipse cx="248.5" cy="451.4" rx="2.8" ry="2.7" transform="rotate(64 248.5 451.4)" fill="#9a98d2"/><ellipse cx="253.3" cy="451.3" rx="3.0" ry="2.4" transform="rotate(53 253.3 451.3)" fill="#9a98d2"/><ellipse cx="280.8" cy="450.4" rx="3.4" ry="3.0" transform="rotate(112 280.8 450.4)" fill="#9a98d2"/><ellipse cx="288.7" cy="451.1" rx="2.3" ry="2.4" transform="rotate(150 288.7 451.1)" fill="#9a98d2"/><ellipse cx="295.8" cy="451.7" rx="2.9" ry="2.5" transform="rotate(42 295.8 451.7)" fill="#9a98d2"/><ellipse cx="243.5" cy="459.2" rx="2.2" ry="2.2" transform="rotate(24 243.5 459.2)" fill="#9a98d2"/><ellipse cx="258.0" cy="459.1" rx="3.1" ry="2.6" transform="rotate(120 258.0 459.1)" fill="#8c8acc"/><ellipse cx="272.7" cy="457.3" rx="2.6" ry="2.3" transform="rotate(82 272.7 457.3)" fill="#8c8acc"/><ellipse cx="279.7" cy="459.7" rx="3.3" ry="3.0" transform="rotate(58 279.7 459.7)" fill="#a8a6d8"/><ellipse cx="286.3" cy="458.0" rx="2.6" ry="2.5" transform="rotate(153 286.3 458.0)" fill="#8c8acc"/><ellipse cx="239.6" cy="465.8" rx="2.4" ry="2.1" transform="rotate(21 239.6 465.8)" fill="#a8a6d8"/><ellipse cx="247.0" cy="463.5" rx="3.0" ry="2.4" transform="rotate(112 247.0 463.5)" fill="#a8a6d8"/><ellipse cx="267.5" cy="465.1" rx="3.2" ry="2.7" transform="rotate(167 267.5 465.1)" fill="#9a98d2"/><ellipse cx="275.6" cy="465.0" rx="3.0" ry="2.7" transform="rotate(130 275.6 465.0)" fill="#9a98d2"/><ellipse cx="281.2" cy="464.1" rx="2.9" ry="3.0" transform="rotate(78 281.2 464.1)" fill="#9a98d2"/><ellipse cx="288.3" cy="465.7" rx="2.8" ry="2.8" transform="rotate(103 288.3 465.7)" fill="#9a98d2"/><ellipse cx="294.3" cy="464.3" rx="2.6" ry="2.3" transform="rotate(6 294.3 464.3)" fill="#7c7ac4"/><ellipse cx="244.6" cy="470.7" rx="2.3" ry="2.6" transform="rotate(169 244.6 470.7)" fill="#7c7ac4"/><ellipse cx="251.0" cy="471.0" rx="2.1" ry="2.5" transform="rotate(160 251.0 471.0)" fill="#9a98d2"/><ellipse cx="258.7" cy="471.5" rx="2.3" ry="2.5" transform="rotate(34 258.7 471.5)" fill="#a8a6d8"/><ellipse cx="266.1" cy="470.2" rx="2.6" ry="3.3" transform="rotate(156 266.1 470.2)" fill="#7c7ac4"/><ellipse cx="272.7" cy="471.7" rx="2.1" ry="2.2" transform="rotate(50 272.7 471.7)" fill="#a8a6d8"/><ellipse cx="279.3" cy="471.0" rx="3.0" ry="2.9" transform="rotate(6 279.3 471.0)" fill="#7c7ac4"/><ellipse cx="293.1" cy="469.9" rx="2.5" ry="2.9" transform="rotate(57 293.1 469.9)" fill="#8c8acc"/><ellipse cx="240.5" cy="477.0" rx="3.0" ry="3.0" transform="rotate(85 240.5 477.0)" fill="#8c8acc"/><ellipse cx="260.0" cy="476.9" rx="2.4" ry="2.9" transform="rotate(52 260.0 476.9)" fill="#7c7ac4"/><ellipse cx="267.9" cy="475.3" rx="2.4" ry="2.0" transform="rotate(36 267.9 475.3)" fill="#7c7ac4"/><ellipse cx="287.9" cy="474.6" rx="2.4" ry="2.5" transform="rotate(111 287.9 474.6)" fill="#8c8acc"/><ellipse cx="296.4" cy="476.5" rx="2.6" ry="2.3" transform="rotate(65 296.4 476.5)" fill="#9a98d2"/><ellipse cx="243.2" cy="481.5" rx="2.4" ry="2.3" transform="rotate(29 243.2 481.5)" fill="#8c8acc"/><ellipse cx="251.7" cy="481.9" rx="2.1" ry="2.1" transform="rotate(8 251.7 481.9)" fill="#7c7ac4"/><ellipse cx="264.7" cy="481.7" rx="2.4" ry="2.1" transform="rotate(83 264.7 481.7)" fill="#a8a6d8"/><ellipse cx="272.6" cy="482.0" rx="3.2" ry="2.9" transform="rotate(8 272.6 482.0)" fill="#a8a6d8"/><ellipse cx="278.0" cy="481.0" rx="3.1" ry="2.9" transform="rotate(43 278.0 481.0)" fill="#9a98d2"/><ellipse cx="287.1" cy="483.9" rx="2.3" ry="2.6" transform="rotate(123 287.1 483.9)" fill="#a8a6d8"/><ellipse cx="293.9" cy="480.5" rx="2.5" ry="2.7" transform="rotate(9 293.9 480.5)" fill="#8c8acc"/><ellipse cx="245.7" cy="488.8" rx="2.6" ry="2.8" transform="rotate(158 245.7 488.8)" fill="#a8a6d8"/><ellipse cx="253.8" cy="487.4" rx="2.3" ry="2.5" transform="rotate(72 253.8 487.4)" fill="#7c7ac4"/><ellipse cx="269.6" cy="489.8" rx="2.2" ry="2.4" transform="rotate(19 269.6 489.8)" fill="#7c7ac4"/><ellipse cx="276.7" cy="488.3" rx="2.5" ry="2.7" transform="rotate(39 276.7 488.3)" fill="#7c7ac4"/><ellipse cx="283.7" cy="488.3" rx="2.4" ry="2.4" transform="rotate(76 283.7 488.3)" fill="#8c8acc"/><ellipse cx="296.4" cy="488.2" rx="2.3" ry="2.0" transform="rotate(2 296.4 488.2)" fill="#a8a6d8"/><ellipse cx="241.8" cy="494.5" rx="3.0" ry="3.2" transform="rotate(180 241.8 494.5)" fill="#9a98d2"/><ellipse cx="256.6" cy="493.6" rx="2.5" ry="2.8" transform="rotate(140 256.6 493.6)" fill="#8c8acc"/><ellipse cx="271.9" cy="494.3" rx="2.7" ry="2.3" transform="rotate(23 271.9 494.3)" fill="#9a98d2"/><ellipse cx="279.4" cy="493.1" rx="2.7" ry="2.8" transform="rotate(144 279.4 493.1)" fill="#8c8acc"/><ellipse cx="285.6" cy="493.8" rx="2.3" ry="2.4" transform="rotate(45 285.6 493.8)" fill="#7c7ac4"/></g></g><rect x="240.0" y="437.3" width="51.799999999999955" height="54.5" fill="none" stroke="#111" stroke-width="1.3"/></g><rect x="159.7" y="410.8" width="132.1" height="79.0" fill="none" stroke="#1a1a1a" stroke-width="1.3"/><g clip-path="url(#c43)"><rect x="297.3" y="410.8" width="132.5" height="79.0" fill="#98705e"/><g filter="url(#b44)"><ellipse cx="350" cy="450" rx="14" ry="18" fill="#a496b0" opacity="1"/><ellipse cx="320" cy="470" rx="16" ry="12" fill="#b08870" opacity="1"/><ellipse cx="365" cy="478" rx="12" ry="8" fill="#c8b8c8" opacity="1"/><ellipse cx="345" cy="425" rx="8" ry="8" fill="#8a4c28" opacity="1"/><ellipse cx="318" cy="450" rx="10" ry="6" fill="#8a5030" opacity="1"/><polyline points="296,462 304,457 311,453.8 318,446 326,436.5 336.5,427.5 347,420 353.8,414 360,414 370,414 377,414 383,418 386,423 390,430 393.6,439.5" fill="none" stroke="#864a26" stroke-width="5"/></g><rect x="297.3" y="410.8" width="132.5" height="79.0" filter="url(#n45)" opacity="1"/><rect x="297.3" y="410.8" width="132.5" height="79.0" filter="url(#n46)" opacity="1"/><rect x="297.3" y="410.8" width="132.5" height="79.0" filter="url(#n47)" opacity="1"/><g filter="url(#b48)"><polygon points="296,410 296,459.3 304,455 311,451.8 318,444 326,434.5 336.5,425.5 347,418 353.8,412 356,410" fill="#f4f2f1"/><polygon points="377,410 377,411 383,416 386,421 390,428 393.6,437.5 431,437.5 431,410" fill="#f4f2f1"/><ellipse cx="359" cy="423.3" rx="3" ry="2" fill="#f4f2f1"/></g><g clip-path="url(#c49)"><g filter="url(#ib50)"><rect x="377.0" y="437.3" width="52.80000000000001" height="52.5" fill="#a86838"/><ellipse cx="371.9" cy="431.1" rx="5.1" ry="4.3" transform="rotate(145 371.9 431.1)" fill="#d4b494" stroke="#985828" stroke-width="1.0"/><ellipse cx="381.9" cy="433.6" rx="4.4" ry="4.6" transform="rotate(69 381.9 433.6)" fill="#a89cc0" stroke="#985828" stroke-width="1.0"/><ellipse cx="390.9" cy="433.8" rx="4.2" ry="5.5" transform="rotate(96 390.9 433.8)" fill="#a89cc0" stroke="#985828" stroke-width="1.0"/><ellipse cx="402.2" cy="433.2" rx="4.9" ry="4.8" transform="rotate(145 402.2 433.2)" fill="#d4b494" stroke="#985828" stroke-width="1.0"/><ellipse cx="413.5" cy="431.1" rx="4.4" ry="4.3" transform="rotate(27 413.5 431.1)" fill="#c89c78" stroke="#985828" stroke-width="1.0"/><ellipse cx="423.7" cy="431.5" rx="4.7" ry="4.2" transform="rotate(7 423.7 431.5)" fill="#d4b494" stroke="#985828" stroke-width="1.0"/><ellipse cx="433.5" cy="432.0" rx="4.4" ry="5.3" transform="rotate(18 433.5 432.0)" fill="#b0a4c4" stroke="#985828" stroke-width="1.0"/><ellipse cx="377.7" cy="439.9" rx="4.5" ry="3.8" transform="rotate(40 377.7 439.9)" fill="#c89c78" stroke="#985828" stroke-width="1.0"/><ellipse cx="385.5" cy="441.7" rx="4.4" ry="4.9" transform="rotate(166 385.5 441.7)" fill="#a89cc0" stroke="#985828" stroke-width="1.0"/><ellipse cx="399.0" cy="441.0" rx="4.5" ry="4.5" transform="rotate(103 399.0 441.0)" fill="#c89c78" stroke="#985828" stroke-width="1.0"/><ellipse cx="408.5" cy="443.3" rx="4.4" ry="5.1" transform="rotate(22 408.5 443.3)" fill="#b0a4c4" stroke="#985828" stroke-width="1.0"/><ellipse cx="417.5" cy="440.0" rx="4.8" ry="4.1" transform="rotate(123 417.5 440.0)" fill="#b0a4c4" stroke="#985828" stroke-width="1.0"/><ellipse cx="428.9" cy="441.1" rx="4.6" ry="4.5" transform="rotate(131 428.9 441.1)" fill="#b0a4c4" stroke="#985828" stroke-width="1.0"/><ellipse cx="436.1" cy="439.4" rx="4.5" ry="4.5" transform="rotate(147 436.1 439.4)" fill="#c89c78" stroke="#985828" stroke-width="1.0"/><ellipse cx="370.5" cy="451.4" rx="4.0" ry="3.7" transform="rotate(95 370.5 451.4)" fill="#d4b494" stroke="#985828" stroke-width="1.0"/><ellipse cx="383.4" cy="447.2" rx="4.6" ry="3.7" transform="rotate(107 383.4 447.2)" fill="#c89c78" stroke="#985828" stroke-width="1.0"/><ellipse cx="392.6" cy="448.7" rx="4.9" ry="5.4" transform="rotate(41 392.6 448.7)" fill="#b0a4c4" stroke="#985828" stroke-width="1.0"/><ellipse cx="400.1" cy="452.1" rx="4.4" ry="4.9" transform="rotate(61 400.1 452.1)" fill="#b0a4c4" stroke="#985828" stroke-width="1.0"/><ellipse cx="413.2" cy="449.1" rx="4.4" ry="4.0" transform="rotate(61 413.2 449.1)" fill="#b0a4c4" stroke="#985828" stroke-width="1.0"/><ellipse cx="424.4" cy="451.6" rx="3.8" ry="4.9" transform="rotate(16 424.4 451.6)" fill="#a89cc0" stroke="#985828" stroke-width="1.0"/><ellipse cx="431.7" cy="451.3" rx="4.7" ry="4.5" transform="rotate(98 431.7 451.3)" fill="#c89c78" stroke="#985828" stroke-width="1.0"/><ellipse cx="376.9" cy="459.3" rx="5.4" ry="4.6" transform="rotate(107 376.9 459.3)" fill="#d4b494" stroke="#985828" stroke-width="1.0"/><ellipse cx="388.2" cy="457.1" rx="4.8" ry="4.0" transform="rotate(54 388.2 457.1)" fill="#a89cc0" stroke="#985828" stroke-width="1.0"/><ellipse cx="395.4" cy="455.9" rx="4.5" ry="4.9" transform="rotate(146 395.4 455.9)" fill="#b0a4c4" stroke="#985828" stroke-width="1.0"/><ellipse cx="406.3" cy="457.1" rx="5.4" ry="5.2" transform="rotate(92 406.3 457.1)" fill="#b0a4c4" stroke="#985828" stroke-width="1.0"/><ellipse cx="415.8" cy="457.8" rx="4.6" ry="5.0" transform="rotate(88 415.8 457.8)" fill="#b0a4c4" stroke="#985828" stroke-width="1.0"/><ellipse cx="425.8" cy="458.2" rx="4.4" ry="5.0" transform="rotate(70 425.8 458.2)" fill="#a89cc0" stroke="#985828" stroke-width="1.0"/><ellipse cx="436.4" cy="457.3" rx="4.8" ry="4.8" transform="rotate(61 436.4 457.3)" fill="#a89cc0" stroke="#985828" stroke-width="1.0"/><ellipse cx="372.8" cy="469.3" rx="4.3" ry="4.2" transform="rotate(106 372.8 469.3)" fill="#c89c78" stroke="#985828" stroke-width="1.0"/><ellipse cx="382.5" cy="466.0" rx="4.2" ry="5.0" transform="rotate(32 382.5 466.0)" fill="#c89c78" stroke="#985828" stroke-width="1.0"/><ellipse cx="393.5" cy="469.1" rx="4.9" ry="5.1" transform="rotate(167 393.5 469.1)" fill="#a89cc0" stroke="#985828" stroke-width="1.0"/><ellipse cx="401.7" cy="464.7" rx="3.8" ry="4.1" transform="rotate(136 401.7 464.7)" fill="#b0a4c4" stroke="#985828" stroke-width="1.0"/><ellipse cx="410.1" cy="468.0" rx="5.0" ry="5.7" transform="rotate(94 410.1 468.0)" fill="#d4b494" stroke="#985828" stroke-width="1.0"/><ellipse cx="423.8" cy="464.8" rx="5.8" ry="5.7" transform="rotate(59 423.8 464.8)" fill="#a89cc0" stroke="#985828" stroke-width="1.0"/><ellipse cx="432.6" cy="466.6" rx="5.7" ry="5.4" transform="rotate(144 432.6 466.6)" fill="#a89cc0" stroke="#985828" stroke-width="1.0"/><ellipse cx="377.0" cy="475.4" rx="4.7" ry="4.3" transform="rotate(106 377.0 475.4)" fill="#b0a4c4" stroke="#985828" stroke-width="1.0"/><ellipse cx="385.2" cy="476.2" rx="5.0" ry="4.6" transform="rotate(141 385.2 476.2)" fill="#d4b494" stroke="#985828" stroke-width="1.0"/><ellipse cx="397.6" cy="473.6" rx="3.8" ry="4.8" transform="rotate(136 397.6 473.6)" fill="#b0a4c4" stroke="#985828" stroke-width="1.0"/><ellipse cx="406.8" cy="477.6" rx="4.6" ry="4.3" transform="rotate(131 406.8 477.6)" fill="#d4b494" stroke="#985828" stroke-width="1.0"/><ellipse cx="415.1" cy="477.3" rx="4.4" ry="4.4" transform="rotate(113 415.1 477.3)" fill="#d4b494" stroke="#985828" stroke-width="1.0"/><ellipse cx="429.1" cy="477.6" rx="5.2" ry="4.8" transform="rotate(20 429.1 477.6)" fill="#a89cc0" stroke="#985828" stroke-width="1.0"/><ellipse cx="438.0" cy="477.1" rx="4.6" ry="5.1" transform="rotate(103 438.0 477.1)" fill="#d4b494" stroke="#985828" stroke-width="1.0"/><ellipse cx="374.0" cy="484.0" rx="5.9" ry="5.3" transform="rotate(164 374.0 484.0)" fill="#d4b494" stroke="#985828" stroke-width="1.0"/><ellipse cx="380.9" cy="485.3" rx="5.0" ry="4.0" transform="rotate(118 380.9 485.3)" fill="#c89c78" stroke="#985828" stroke-width="1.0"/><ellipse cx="394.4" cy="483.2" rx="5.7" ry="4.9" transform="rotate(11 394.4 483.2)" fill="#a89cc0" stroke="#985828" stroke-width="1.0"/><ellipse cx="403.8" cy="483.2" rx="4.8" ry="3.8" transform="rotate(168 403.8 483.2)" fill="#c89c78" stroke="#985828" stroke-width="1.0"/><ellipse cx="414.1" cy="481.9" rx="4.1" ry="5.1" transform="rotate(67 414.1 481.9)" fill="#c89c78" stroke="#985828" stroke-width="1.0"/><ellipse cx="422.7" cy="484.4" rx="4.8" ry="5.4" transform="rotate(134 422.7 484.4)" fill="#d4b494" stroke="#985828" stroke-width="1.0"/><ellipse cx="431.4" cy="482.0" rx="5.0" ry="4.9" transform="rotate(27 431.4 482.0)" fill="#b0a4c4" stroke="#985828" stroke-width="1.0"/><ellipse cx="379.2" cy="493.9" rx="4.8" ry="5.6" transform="rotate(170 379.2 493.9)" fill="#a89cc0" stroke="#985828" stroke-width="1.0"/><ellipse cx="388.2" cy="491.0" rx="4.5" ry="4.3" transform="rotate(13 388.2 491.0)" fill="#d4b494" stroke="#985828" stroke-width="1.0"/><ellipse cx="397.0" cy="490.8" rx="4.5" ry="4.2" transform="rotate(98 397.0 490.8)" fill="#b0a4c4" stroke="#985828" stroke-width="1.0"/><ellipse cx="404.7" cy="493.0" rx="4.6" ry="4.4" transform="rotate(98 404.7 493.0)" fill="#d4b494" stroke="#985828" stroke-width="1.0"/><ellipse cx="415.3" cy="493.3" rx="4.2" ry="4.7" transform="rotate(49 415.3 493.3)" fill="#c89c78" stroke="#985828" stroke-width="1.0"/><ellipse cx="425.6" cy="493.2" rx="4.4" ry="4.1" transform="rotate(177 425.6 493.2)" fill="#b0a4c4" stroke="#985828" stroke-width="1.0"/><ellipse cx="435.3" cy="492.0" rx="4.7" ry="5.1" transform="rotate(100 435.3 492.0)" fill="#b0a4c4" stroke="#985828" stroke-width="1.0"/></g></g><rect x="377.0" y="437.3" width="52.80000000000001" height="54.5" fill="none" stroke="#111" stroke-width="1.3"/></g><rect x="297.3" y="410.8" width="132.5" height="79.0" fill="none" stroke="#1a1a1a" stroke-width="1.3"/><rect x="164" y="399.6" width="30.5" height="1.6" fill="#ece6e6" opacity="0.45"/><rect x="300.5" y="400.4" width="30.5" height="1.6" fill="#ece6e6" opacity="0.45"/><rect x="164" y="484.6" width="30.5" height="1.6" fill="#f4f4f8" opacity="0.7"/><rect x="303.3" y="484.1" width="30.5" height="1.9" fill="#000"/><text x="303.4" y="479.9" font-size="9.3" font-weight="bold" fill="#000" textLength="29.6" lengthAdjust="spacingAndGlyphs">200μm</text>
<text x="1.00" y="16.00" font-size="18" text-anchor="start" font-weight="bold" fill="#000" >a</text>
<line x1="37.70" y1="38.00" x2="37.70" y2="203.25" stroke="#333333" stroke-width="1.5"/>
<line x1="34.10" y1="202.50" x2="37.70" y2="202.50" stroke="#333333" stroke-width="1.5"/>
<text x="33.40" y="207.70" font-size="12" text-anchor="end" font-weight="normal" fill="#1a1a1a" >0</text>
<line x1="34.10" y1="163.43" x2="37.70" y2="163.43" stroke="#333333" stroke-width="1.5"/>
<text x="33.40" y="168.62" font-size="12" text-anchor="end" font-weight="normal" fill="#1a1a1a" >25</text>
<line x1="34.10" y1="124.35" x2="37.70" y2="124.35" stroke="#333333" stroke-width="1.5"/>
<text x="33.40" y="129.55" font-size="12" text-anchor="end" font-weight="normal" fill="#1a1a1a" >50</text>
<line x1="34.10" y1="85.28" x2="37.70" y2="85.28" stroke="#333333" stroke-width="1.5"/>
<text x="33.40" y="90.48" font-size="12" text-anchor="end" font-weight="normal" fill="#1a1a1a" >75</text>
<line x1="34.10" y1="46.20" x2="37.70" y2="46.20" stroke="#333333" stroke-width="1.5"/>
<text x="33.40" y="51.40" font-size="12" text-anchor="end" font-weight="normal" fill="#1a1a1a" >100</text>
<text transform="translate(16.30,124.40) rotate(-90)" font-size="11.6" text-anchor="middle" fill="#1a1a1a">proportion (%)</text>
<line x1="36.95" y1="202.50" x2="220.20" y2="202.50" stroke="#333333" stroke-width="1.5"/>
<rect x="55" y="46.20" width="34" height="105.21" fill="#E41A1C"/>
<rect x="55" y="150.41" width="34" height="52.09" fill="#377EB8"/>
<text x="72.00" y="102.20" font-size="12.3" text-anchor="middle" font-weight="bold" fill="#fff" >66.67</text>
<text x="72.00" y="180.35" font-size="12.3" text-anchor="middle" font-weight="bold" fill="#fff" >33.33</text>
<line x1="72.00" y1="202.50" x2="72.00" y2="207.30" stroke="#333333" stroke-width="1.5"/>
<rect x="112" y="46.20" width="34" height="46.59" fill="#E41A1C"/>
<rect x="112" y="91.79" width="34" height="110.71" fill="#377EB8"/>
<text x="129.00" y="72.90" font-size="12.3" text-anchor="middle" font-weight="bold" fill="#fff" >29.17</text>
<text x="129.00" y="151.05" font-size="12.3" text-anchor="middle" font-weight="bold" fill="#fff" >70.83</text>
<line x1="129.00" y1="202.50" x2="129.00" y2="207.30" stroke="#333333" stroke-width="1.5"/>
<rect x="169" y="46.20" width="34" height="79.15" fill="#E41A1C"/>
<rect x="169" y="124.35" width="34" height="78.15" fill="#377EB8"/>
<text x="186.00" y="89.17" font-size="12.3" text-anchor="middle" font-weight="bold" fill="#fff" >50.00</text>
<text x="186.00" y="167.33" font-size="12.3" text-anchor="middle" font-weight="bold" fill="#fff" >50.00</text>
<line x1="186.00" y1="202.50" x2="186.00" y2="207.30" stroke="#333333" stroke-width="1.5"/>
<text x="129.00" y="14.90" font-size="11.7" text-anchor="middle" font-weight="normal" fill="#1a1a1a" >durvalumab cohort</text>
<line x1="72.00" y1="25.85" x2="186.00" y2="25.85" stroke="#555555" stroke-width="1.4"/>
<text x="128.50" y="23.70" font-size="11.7" text-anchor="middle" font-weight="normal" fill="#1a1a1a" >ns</text>
<line x1="129.00" y1="35.80" x2="186.00" y2="35.80" stroke="#555555" stroke-width="1.4"/>
<text x="157.50" y="34.20" font-size="11.7" text-anchor="middle" font-weight="normal" fill="#1a1a1a" >ns</text>
<line x1="72.00" y1="41.60" x2="129.00" y2="41.60" stroke="#555555" stroke-width="1.4"/>
<path d="M99.75,36.40L99.75,33.50M99.75,36.40L102.51,35.50M99.75,36.40L101.45,38.75M99.75,36.40L98.05,38.75M99.75,36.40L96.99,35.50" stroke="#111" stroke-width="1.35" stroke-linecap="butt" fill="none"/>
<rect x="55" y="253" width="22" height="13.5" fill="#E41A1C"/>
<text x="81.00" y="264.30" font-size="11.8" text-anchor="start" font-weight="normal" fill="#1a1a1a" >pCR</text>
<rect x="118.6" y="253" width="22" height="13.5" fill="#377EB8"/>
<text x="144.40" y="264.30" font-size="11.7" text-anchor="start" font-weight="normal" fill="#1a1a1a" >non-pCR</text>
<text x="225.60" y="16.00" font-size="18" text-anchor="start" font-weight="bold" fill="#000" >b</text>
<line x1="269.70" y1="38.00" x2="269.70" y2="203.25" stroke="#333333" stroke-width="1.5"/>
<line x1="266.10" y1="202.50" x2="269.70" y2="202.50" stroke="#333333" stroke-width="1.5"/>
<text x="265.40" y="207.70" font-size="12" text-anchor="end" font-weight="normal" fill="#1a1a1a" >0</text>
<line x1="266.10" y1="163.43" x2="269.70" y2="163.43" stroke="#333333" stroke-width="1.5"/>
<text x="265.40" y="168.62" font-size="12" text-anchor="end" font-weight="normal" fill="#1a1a1a" >25</text>
<line x1="266.10" y1="124.35" x2="269.70" y2="124.35" stroke="#333333" stroke-width="1.5"/>
<text x="265.40" y="129.55" font-size="12" text-anchor="end" font-weight="normal" fill="#1a1a1a" >50</text>
<line x1="266.10" y1="85.28" x2="269.70" y2="85.28" stroke="#333333" stroke-width="1.5"/>
<text x="265.40" y="90.48" font-size="12" text-anchor="end" font-weight="normal" fill="#1a1a1a" >75</text>
<line x1="266.10" y1="46.20" x2="269.70" y2="46.20" stroke="#333333" stroke-width="1.5"/>
<text x="265.40" y="51.40" font-size="12" text-anchor="end" font-weight="normal" fill="#1a1a1a" >100</text>
<text transform="translate(248.30,124.40) rotate(-90)" font-size="11.6" text-anchor="middle" fill="#1a1a1a">proportion (%)</text>
<line x1="268.95" y1="202.50" x2="452.20" y2="202.50" stroke="#333333" stroke-width="1.5"/>
<rect x="287" y="46.20" width="34" height="65.52" fill="#E41A1C"/>
<rect x="287" y="110.72" width="34" height="91.78" fill="#377EB8"/>
<text x="304.00" y="82.36" font-size="12.3" text-anchor="middle" font-weight="bold" fill="#fff" >41.28</text>
<text x="304.00" y="160.51" font-size="12.3" text-anchor="middle" font-weight="bold" fill="#fff" >58.72</text>
<line x1="304.00" y1="202.50" x2="304.00" y2="207.30" stroke="#333333" stroke-width="1.5"/>
<rect x="344" y="46.20" width="34" height="46.19" fill="#E41A1C"/>
<rect x="344" y="91.39" width="34" height="111.11" fill="#377EB8"/>
<text x="361.00" y="72.69" font-size="12.3" text-anchor="middle" font-weight="bold" fill="#fff" >28.91</text>
<text x="361.00" y="150.84" font-size="12.3" text-anchor="middle" font-weight="bold" fill="#fff" >71.09</text>
<line x1="361.00" y1="202.50" x2="361.00" y2="207.30" stroke="#333333" stroke-width="1.5"/>
<rect x="401" y="46.20" width="34" height="76.02" fill="#E41A1C"/>
<rect x="401" y="121.22" width="34" height="81.28" fill="#377EB8"/>
<text x="418.00" y="87.61" font-size="12.3" text-anchor="middle" font-weight="bold" fill="#fff" >48.00</text>
<text x="418.00" y="165.76" font-size="12.3" text-anchor="middle" font-weight="bold" fill="#fff" >52.00</text>
<line x1="418.00" y1="202.50" x2="418.00" y2="207.30" stroke="#333333" stroke-width="1.5"/>
<text x="360.10" y="14.90" font-size="11.7" text-anchor="middle" font-weight="normal" fill="#1a1a1a" >paclitaxel cohort</text>
<line x1="304.00" y1="25.85" x2="418.00" y2="25.85" stroke="#555555" stroke-width="1.4"/>
<text x="360.50" y="23.70" font-size="11.7" text-anchor="middle" font-weight="normal" fill="#1a1a1a" >ns</text>
<line x1="361.00" y1="35.80" x2="418.00" y2="35.80" stroke="#555555" stroke-width="1.4"/>
<path d="M385.50,30.90L385.50,28.00M385.50,30.90L388.26,30.00M385.50,30.90L387.20,33.25M385.50,30.90L383.80,33.25M385.50,30.90L382.74,30.00" stroke="#111" stroke-width="1.35" stroke-linecap="butt" fill="none"/>
<path d="M392.70,30.90L392.70,28.00M392.70,30.90L395.46,30.00M392.70,30.90L394.40,33.25M392.70,30.90L391.00,33.25M392.70,30.90L389.94,30.00" stroke="#111" stroke-width="1.35" stroke-linecap="butt" fill="none"/>
<line x1="304.00" y1="41.60" x2="361.00" y2="41.60" stroke="#555555" stroke-width="1.4"/>
<path d="M331.75,36.40L331.75,33.50M331.75,36.40L334.51,35.50M331.75,36.40L333.45,38.75M331.75,36.40L330.05,38.75M331.75,36.40L328.99,35.50" stroke="#111" stroke-width="1.35" stroke-linecap="butt" fill="none"/>
<rect x="287" y="253" width="22" height="13.5" fill="#E41A1C"/>
<text x="313.00" y="264.30" font-size="11.8" text-anchor="start" font-weight="normal" fill="#1a1a1a" >pCR</text>
<rect x="350.6" y="253" width="22" height="13.5" fill="#377EB8"/>
<text x="376.40" y="264.30" font-size="11.7" text-anchor="start" font-weight="normal" fill="#1a1a1a" >non-pCR</text>
<text x="463.80" y="16.00" font-size="18" text-anchor="start" font-weight="bold" fill="#000" >c</text>
<line x1="502.40" y1="38.00" x2="502.40" y2="203.25" stroke="#333333" stroke-width="1.5"/>
<line x1="498.80" y1="202.50" x2="502.40" y2="202.50" stroke="#333333" stroke-width="1.5"/>
<text x="498.10" y="207.70" font-size="12" text-anchor="end" font-weight="normal" fill="#1a1a1a" >0</text>
<line x1="498.80" y1="163.43" x2="502.40" y2="163.43" stroke="#333333" stroke-width="1.5"/>
<text x="498.10" y="168.62" font-size="12" text-anchor="end" font-weight="normal" fill="#1a1a1a" >25</text>
<line x1="498.80" y1="124.35" x2="502.40" y2="124.35" stroke="#333333" stroke-width="1.5"/>
<text x="498.10" y="129.55" font-size="12" text-anchor="end" font-weight="normal" fill="#1a1a1a" >50</text>
<line x1="498.80" y1="85.28" x2="502.40" y2="85.28" stroke="#333333" stroke-width="1.5"/>
<text x="498.10" y="90.48" font-size="12" text-anchor="end" font-weight="normal" fill="#1a1a1a" >75</text>
<line x1="498.80" y1="46.20" x2="502.40" y2="46.20" stroke="#333333" stroke-width="1.5"/>
<text x="498.10" y="51.40" font-size="12" text-anchor="end" font-weight="normal" fill="#1a1a1a" >100</text>
<text transform="translate(481.00,124.40) rotate(-90)" font-size="11.6" text-anchor="middle" fill="#1a1a1a">proportion (%)</text>
<line x1="501.65" y1="202.50" x2="684.90" y2="202.50" stroke="#333333" stroke-width="1.5"/>
<rect x="519.7" y="46.20" width="34" height="102.14" fill="#E41A1C"/>
<rect x="519.7" y="147.34" width="34" height="55.16" fill="#377EB8"/>
<text x="536.70" y="100.67" font-size="12.3" text-anchor="middle" font-weight="bold" fill="#fff" >64.71</text>
<text x="536.70" y="178.82" font-size="12.3" text-anchor="middle" font-weight="bold" fill="#fff" >35.29</text>
<line x1="536.70" y1="202.50" x2="536.70" y2="207.30" stroke="#333333" stroke-width="1.5"/>
<rect x="576.7" y="46.20" width="34" height="50.36" fill="#E41A1C"/>
<rect x="576.7" y="95.56" width="34" height="106.94" fill="#377EB8"/>
<text x="593.70" y="74.78" font-size="12.3" text-anchor="middle" font-weight="bold" fill="#fff" >34.58</text>
<text x="593.70" y="152.93" font-size="12.3" text-anchor="middle" font-weight="bold" fill="#fff" >68.42</text>
<line x1="593.70" y1="202.50" x2="593.70" y2="207.30" stroke="#333333" stroke-width="1.5"/>
<rect x="633.7" y="46.20" width="34" height="83.26" fill="#E41A1C"/>
<rect x="633.7" y="128.46" width="34" height="74.04" fill="#377EB8"/>
<text x="650.70" y="91.23" font-size="12.3" text-anchor="middle" font-weight="bold" fill="#fff" >52.63</text>
<text x="650.70" y="169.38" font-size="12.3" text-anchor="middle" font-weight="bold" fill="#fff" >47.37</text>
<line x1="650.70" y1="202.50" x2="650.70" y2="207.30" stroke="#333333" stroke-width="1.5"/>
<text x="592.50" y="14.90" font-size="11.7" text-anchor="middle" font-weight="normal" fill="#1a1a1a" >anthracycline cohort</text>
<line x1="536.70" y1="25.85" x2="650.70" y2="25.85" stroke="#555555" stroke-width="1.4"/>
<text x="593.20" y="23.70" font-size="11.7" text-anchor="middle" font-weight="normal" fill="#1a1a1a" >ns</text>
<line x1="593.70" y1="35.80" x2="650.70" y2="35.80" stroke="#555555" stroke-width="1.4"/>
<text x="622.20" y="34.20" font-size="11.7" text-anchor="middle" font-weight="normal" fill="#1a1a1a" >ns</text>
<line x1="536.70" y1="41.60" x2="593.70" y2="41.60" stroke="#555555" stroke-width="1.4"/>
<path d="M564.45,36.40L564.45,33.50M564.45,36.40L567.21,35.50M564.45,36.40L566.15,38.75M564.45,36.40L562.75,38.75M564.45,36.40L561.69,35.50" stroke="#111" stroke-width="1.35" stroke-linecap="butt" fill="none"/>
<rect x="519.7" y="253" width="22" height="13.5" fill="#E41A1C"/>
<text x="545.70" y="264.30" font-size="11.8" text-anchor="start" font-weight="normal" fill="#1a1a1a" >pCR</text>
<rect x="583.3" y="253" width="22" height="13.5" fill="#377EB8"/>
<text x="609.10" y="264.30" font-size="11.7" text-anchor="start" font-weight="normal" fill="#1a1a1a" >non-pCR</text>
<text x="463.20" y="313.40" font-size="18" text-anchor="start" font-weight="bold" fill="#000" >e</text>
<line x1="510.10" y1="329.50" x2="510.10" y2="490.25" stroke="#333333" stroke-width="1.5"/>
<line x1="503.70" y1="330.25" x2="510.10" y2="330.25" stroke="#333333" stroke-width="1.5"/>
<text x="501.80" y="334.85" font-size="12" text-anchor="end" font-weight="normal" fill="#1a1a1a" >120</text>
<line x1="503.70" y1="370.25" x2="510.10" y2="370.25" stroke="#333333" stroke-width="1.5"/>
<text x="501.80" y="374.85" font-size="12" text-anchor="end" font-weight="normal" fill="#1a1a1a" >80</text>
<line x1="503.70" y1="410.25" x2="510.10" y2="410.25" stroke="#333333" stroke-width="1.5"/>
<text x="501.80" y="414.85" font-size="12" text-anchor="end" font-weight="normal" fill="#1a1a1a" >40</text>
<line x1="503.70" y1="450.25" x2="510.10" y2="450.25" stroke="#333333" stroke-width="1.5"/>
<text x="501.80" y="454.85" font-size="12" text-anchor="end" font-weight="normal" fill="#1a1a1a" >0</text>
<line x1="503.70" y1="490.25" x2="510.10" y2="490.25" stroke="#333333" stroke-width="1.5"/>
<text x="501.80" y="494.85" font-size="12" text-anchor="end" font-weight="normal" fill="#1a1a1a" >-40</text>
<text transform="translate(479.20,407.40) rotate(-90)" font-size="11.6" text-anchor="middle" fill="#1a1a1a">change in sum of diameters (%)</text>
<line x1="509.35" y1="490.25" x2="685.00" y2="490.25" stroke="#333333" stroke-width="1.5"/>
<line x1="539.20" y1="490.25" x2="539.20" y2="496.65" stroke="#333333" stroke-width="1.5"/>
<line x1="597.30" y1="490.25" x2="597.30" y2="496.65" stroke="#333333" stroke-width="1.5"/>
<line x1="655.00" y1="490.25" x2="655.00" y2="496.65" stroke="#333333" stroke-width="1.5"/>
<text x="598.40" y="315.80" font-size="11.7" text-anchor="middle" font-weight="normal" fill="#1a1a1a" >in-house cohort</text>
<line x1="540.30" y1="326.30" x2="655.00" y2="326.30" stroke="#333333" stroke-width="1.4"/>
<text x="598.00" y="324.20" font-size="11.7" text-anchor="middle" font-weight="normal" fill="#1a1a1a" >ns</text>
<line x1="540.30" y1="343.20" x2="597.30" y2="343.20" stroke="#333333" stroke-width="1.4"/>
<path d="M564.70,338.00L564.70,335.10M564.70,338.00L567.46,337.10M564.70,338.00L566.40,340.35M564.70,338.00L563.00,340.35M564.70,338.00L561.94,337.10" stroke="#111" stroke-width="1.35" stroke-linecap="butt" fill="none"/>
<path d="M571.90,338.00L571.90,335.10M571.90,338.00L574.66,337.10M571.90,338.00L573.60,340.35M571.90,338.00L570.20,340.35M571.90,338.00L569.14,337.10" stroke="#111" stroke-width="1.35" stroke-linecap="butt" fill="none"/>
<line x1="597.30" y1="335.90" x2="655.00" y2="335.90" stroke="#333333" stroke-width="1.4"/>
<path d="M625.40,331.40L625.40,328.50M625.40,331.40L628.16,330.50M625.40,331.40L627.10,333.75M625.40,331.40L623.70,333.75M625.40,331.40L622.64,330.50" stroke="#111" stroke-width="1.35" stroke-linecap="butt" fill="none"/>
<text x="515.00" y="484.30" font-size="11.6" text-anchor="start" font-weight="normal" fill="#1a1a1a" >Kruskal-Wallis test P=0.001</text>
<line x1="539.20" y1="347.10" x2="539.20" y2="380.10" stroke="#444" stroke-width="1.6"/>
<line x1="529.40" y1="347.10" x2="549.00" y2="347.10" stroke="#222222" stroke-width="1.5"/>
<line x1="529.40" y1="380.10" x2="549.00" y2="380.10" stroke="#222222" stroke-width="1.5"/>
<line x1="520.10" y1="363.60" x2="558.30" y2="363.60" stroke="#222222" stroke-width="1.5"/>
<circle cx="529.30" cy="349.90" r="3.85" fill="#FF8000"/>
<circle cx="548.50" cy="349.90" r="3.85" fill="#FF8000"/>
<circle cx="539.00" cy="355.20" r="3.85" fill="#FF8000"/>
<circle cx="534.20" cy="362.50" r="3.85" fill="#FF8000"/>
<circle cx="544.00" cy="370.00" r="3.85" fill="#FF8000"/>
<circle cx="539.00" cy="393.30" r="3.85" fill="#FF8000"/>
<line x1="597.30" y1="381.50" x2="597.30" y2="434.40" stroke="#444" stroke-width="1.6"/>
<line x1="587.50" y1="381.50" x2="607.10" y2="381.50" stroke="#222222" stroke-width="1.5"/>
<line x1="587.50" y1="434.40" x2="607.10" y2="434.40" stroke="#222222" stroke-width="1.5"/>
<line x1="578.20" y1="408.20" x2="616.40" y2="408.20" stroke="#222222" stroke-width="1.5"/>
<circle cx="596.90" cy="369.30" r="3.85" fill="#F93E44"/>
<circle cx="582.70" cy="375.20" r="3.85" fill="#F93E44"/>
<circle cx="611.60" cy="375.20" r="3.85" fill="#F93E44"/>
<circle cx="591.90" cy="380.80" r="3.85" fill="#F93E44"/>
<circle cx="601.80" cy="382.00" r="3.85" fill="#F93E44"/>
<circle cx="582.60" cy="408.90" r="3.85" fill="#F93E44"/>
<circle cx="587.20" cy="409.90" r="3.85" fill="#F93E44"/>
<circle cx="592.40" cy="412.50" r="3.85" fill="#F93E44"/>
<circle cx="592.10" cy="418.70" r="3.85" fill="#F93E44"/>
<circle cx="596.70" cy="416.80" r="3.85" fill="#F93E44"/>
<circle cx="601.60" cy="415.80" r="3.85" fill="#F93E44"/>
<circle cx="606.50" cy="409.90" r="3.85" fill="#F93E44"/>
<circle cx="611.50" cy="409.50" r="3.85" fill="#F93E44"/>
<circle cx="601.90" cy="427.90" r="3.85" fill="#F93E44"/>
<circle cx="592.10" cy="457.00" r="3.85" fill="#F93E44"/>
<circle cx="601.90" cy="456.30" r="3.85" fill="#F93E44"/>
<line x1="655.00" y1="357.00" x2="655.00" y2="404.20" stroke="#444" stroke-width="1.6"/>
<line x1="645.20" y1="357.00" x2="664.80" y2="357.00" stroke="#222222" stroke-width="1.5"/>
<line x1="645.20" y1="404.20" x2="664.80" y2="404.20" stroke="#222222" stroke-width="1.5"/>
<line x1="635.90" y1="380.40" x2="674.10" y2="380.40" stroke="#222222" stroke-width="1.5"/>
<circle cx="650.20" cy="349.90" r="3.85" fill="#10BF77"/>
<circle cx="659.70" cy="349.90" r="3.85" fill="#10BF77"/>
<circle cx="654.80" cy="361.80" r="3.85" fill="#10BF77"/>
<circle cx="664.50" cy="384.70" r="3.85" fill="#10BF77"/>
<circle cx="645.30" cy="393.30" r="3.85" fill="#10BF77"/>
<circle cx="654.80" cy="393.80" r="3.85" fill="#10BF77"/>
<circle cx="659.70" cy="401.10" r="3.85" fill="#10BF77"/>
<circle cx="650.20" cy="410.70" r="3.85" fill="#10BF77"/>
<text x="0.30" y="312.90" font-size="18" text-anchor="start" font-weight="bold" fill="#000" >d</text>
<text x="67.30" y="320.90" font-size="11.4" fill="#1a1a1a"><tspan>B7-H3</tspan><tspan font-size="6.8" dy="-3.5" dx="0.4">low</tspan></text>
<text x="180.00" y="320.90" font-size="11.4" fill="#1a1a1a"><tspan>B7-H3</tspan><tspan font-size="6.8" dy="-3.5" dx="0.4">high</tspan><tspan dy="3.5" dx="0.3">PD-L1</tspan><tspan font-size="6.8" dy="-3.5" dx="0.4">low</tspan></text>
<text x="316.20" y="320.90" font-size="11.4" fill="#1a1a1a"><tspan>B7-H3</tspan><tspan font-size="6.8" dy="-3.5" dx="0.4">high</tspan><tspan dy="3.5" dx="0.3">PD-L1</tspan><tspan font-size="6.8" dy="-3.5" dx="0.4">high</tspan></text>
<text transform="translate(18.6,365.3) rotate(-90)" font-size="11.7" text-anchor="middle" fill="#1a1a1a">anti-B7-H3</text>
<text transform="translate(18.6,450.1) rotate(-90)" font-size="11.7" text-anchor="middle" fill="#1a1a1a">anti-PD-L1</text>
</svg>
<div class="xl" style="right:611.40px;top:207.05px;height:10.5px">B7-H3<sup>low</sup></div>
<div class="xl" style="right:555.80px;top:202.90px;height:21.0px">B7-H3<sup>high</sup><br>PD-L1<sup>low</sup></div>
<div class="xl" style="right:498.80px;top:202.90px;height:21.0px">B7-H3<sup>high</sup><br>PD-L1<sup>high</sup></div>
<div class="xl" style="right:379.40px;top:207.05px;height:10.5px">B7-H3<sup>low</sup></div>
<div class="xl" style="right:323.80px;top:202.90px;height:21.0px">B7-H3<sup>high</sup><br>PD-L1<sup>low</sup></div>
<div class="xl" style="right:266.80px;top:202.90px;height:21.0px">B7-H3<sup>high</sup><br>PD-L1<sup>high</sup></div>
<div class="xl" style="right:146.70px;top:207.05px;height:10.5px">B7-H3<sup>low</sup></div>
<div class="xl" style="right:91.10px;top:202.90px;height:21.0px">B7-H3<sup>high</sup><br>PD-L1<sup>low</sup></div>
<div class="xl" style="right:34.10px;top:202.90px;height:21.0px">B7-H3<sup>high</sup><br>PD-L1<sup>high</sup></div>
<div class="xl" style="right:144.20px;top:497.00px;height:10.5px">B7-H3<sup>low</sup></div>
<div class="xl" style="right:87.50px;top:492.85px;height:21.0px">B7-H3<sup>high</sup><br>PD-L1<sup>low</sup></div>
<div class="xl" style="right:29.80px;top:492.85px;height:21.0px">B7-H3<sup>high</sup><br>PD-L1<sup>high</sup></div>
</body></html>
